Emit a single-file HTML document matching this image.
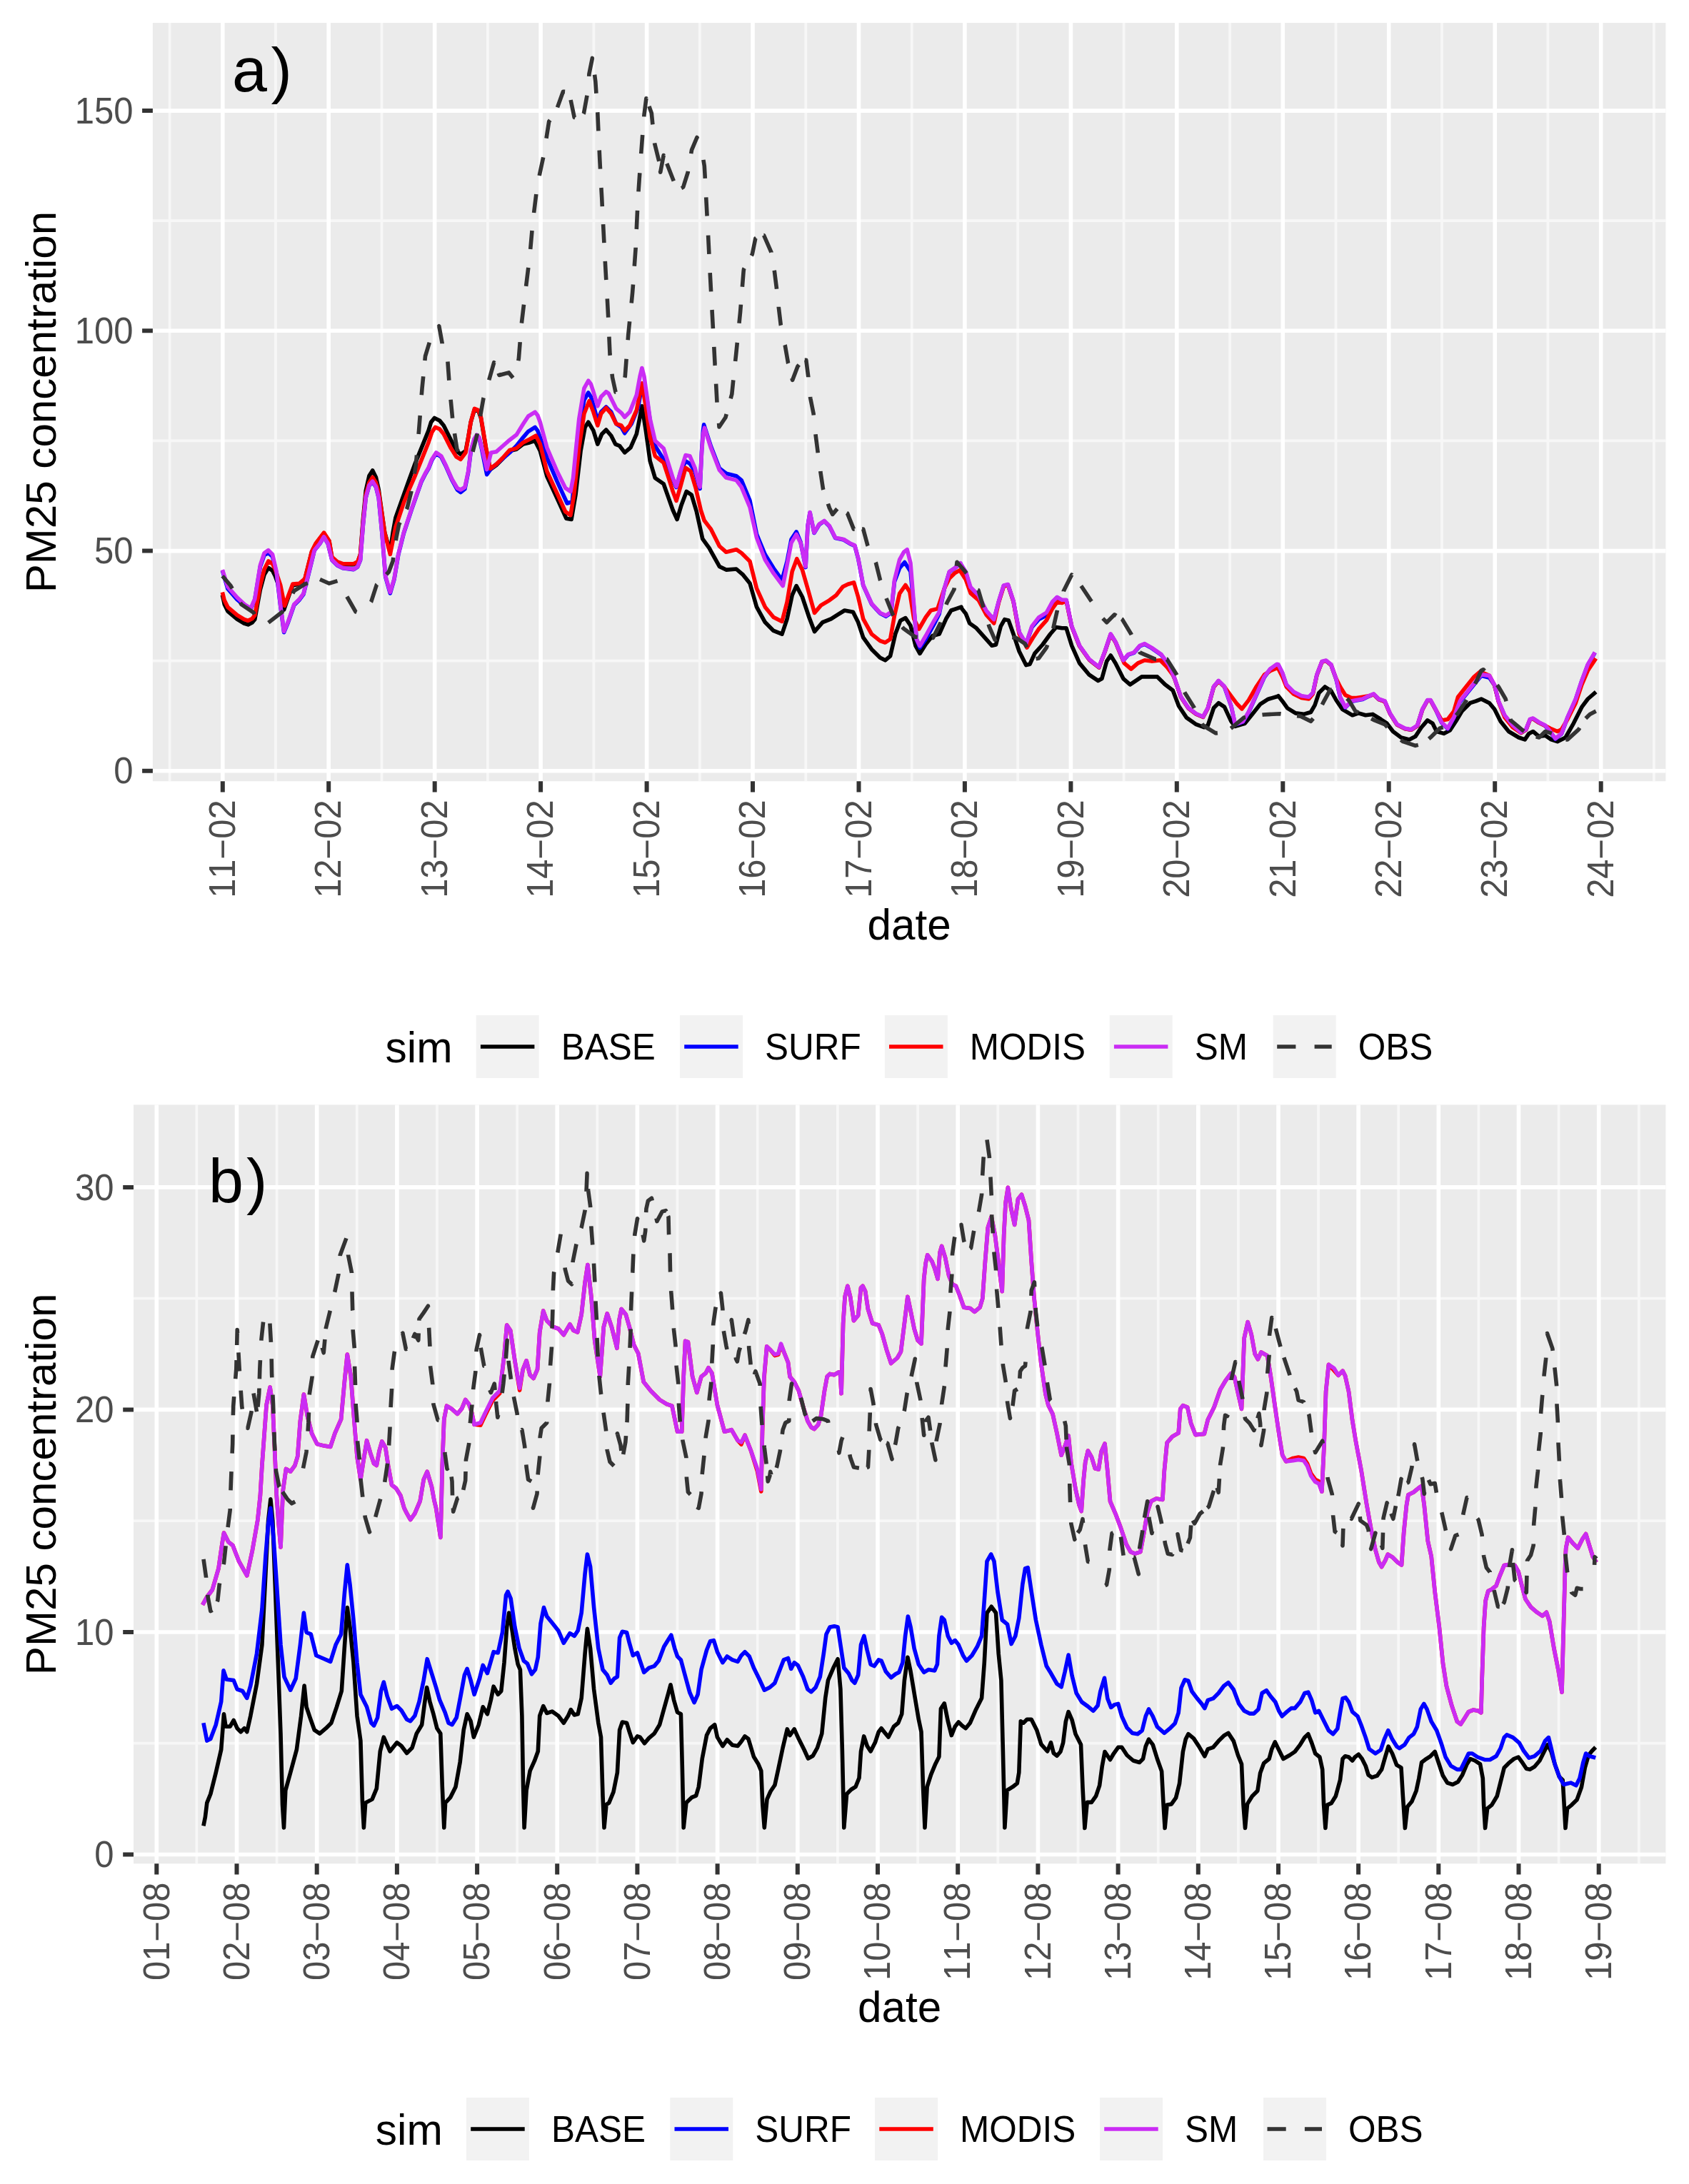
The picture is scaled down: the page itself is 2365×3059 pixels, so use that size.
<!DOCTYPE html>
<html lang="en"><head><meta charset="utf-8"><title>PM25 concentration</title>
<style>html,body{margin:0;padding:0;background:#fff}svg{display:block}#fig{width:2365px;height:3059px;overflow:hidden}</style></head>
<body>
<div id="fig">
<svg width="2365" height="3059" viewBox="0 0 2365 3059" font-family='"Liberation Sans", sans-serif' style="font-kerning:none">
<g>
<rect width="2365" height="3059" fill="#FFFFFF"/>
<rect x="213.9" y="32.0" width="2118.5" height="1062.2" fill="#EBEBEB"/>
<path d="M237.6 32.0V1094.2M386.0 32.0V1094.2M534.5 32.0V1094.2M682.9 32.0V1094.2M831.4 32.0V1094.2M979.8 32.0V1094.2M1128.3 32.0V1094.2M1276.7 32.0V1094.2M1425.2 32.0V1094.2M1573.6 32.0V1094.2M1722.1 32.0V1094.2M1870.5 32.0V1094.2M2019.0 32.0V1094.2M2167.4 32.0V1094.2M2315.9 32.0V1094.2M213.9 925.7H2332.4M213.9 617.4H2332.4M213.9 309.2H2332.4" stroke="#FFFFFF" stroke-opacity="0.62" stroke-width="3.8" fill="none"/>
<path d="M311.8 32.0V1094.2M460.2 32.0V1094.2M608.7 32.0V1094.2M757.1 32.0V1094.2M905.6 32.0V1094.2M1054.0 32.0V1094.2M1202.5 32.0V1094.2M1350.9 32.0V1094.2M1499.4 32.0V1094.2M1647.8 32.0V1094.2M1796.3 32.0V1094.2M1944.7 32.0V1094.2M2093.2 32.0V1094.2M2241.7 32.0V1094.2M213.9 1079.8H2332.4M213.9 771.6H2332.4M213.9 463.3H2332.4M213.9 155.1H2332.4" stroke="#FFFFFF" stroke-width="5.6" fill="none"/>
<path d="M311.8 1094.2v15.3M460.2 1094.2v15.3M608.7 1094.2v15.3M757.1 1094.2v15.3M905.6 1094.2v15.3M1054.0 1094.2v15.3M1202.5 1094.2v15.3M1350.9 1094.2v15.3M1499.4 1094.2v15.3M1647.8 1094.2v15.3M1796.3 1094.2v15.3M1944.7 1094.2v15.3M2093.2 1094.2v15.3M2241.7 1094.2v15.3M213.9 1079.8h-14.8M213.9 771.6h-14.8M213.9 463.3h-14.8M213.9 155.1h-14.8" stroke="#333333" stroke-width="6" fill="none"/>
<text transform="translate(186.5,1097.4) scale(1,1.042)" text-anchor="end" font-size="49" fill="#4D4D4D">0</text>
<text transform="translate(186.5,789.2) scale(1,1.042)" text-anchor="end" font-size="49" fill="#4D4D4D">50</text>
<text transform="translate(186.5,480.9) scale(1,1.042)" text-anchor="end" font-size="49" fill="#4D4D4D">100</text>
<text transform="translate(186.5,172.7) scale(1,1.042)" text-anchor="end" font-size="49" fill="#4D4D4D">150</text>
<text transform="translate(329.0,1120.3) rotate(-90) scale(1,1.042)" text-anchor="end" font-size="49" fill="#4D4D4D">11−02</text>
<text transform="translate(477.4,1120.3) rotate(-90) scale(1,1.042)" text-anchor="end" font-size="49" fill="#4D4D4D">12−02</text>
<text transform="translate(625.9,1120.3) rotate(-90) scale(1,1.042)" text-anchor="end" font-size="49" fill="#4D4D4D">13−02</text>
<text transform="translate(774.4,1120.3) rotate(-90) scale(1,1.042)" text-anchor="end" font-size="49" fill="#4D4D4D">14−02</text>
<text transform="translate(922.8,1120.3) rotate(-90) scale(1,1.042)" text-anchor="end" font-size="49" fill="#4D4D4D">15−02</text>
<text transform="translate(1071.2,1120.3) rotate(-90) scale(1,1.042)" text-anchor="end" font-size="49" fill="#4D4D4D">16−02</text>
<text transform="translate(1219.7,1120.3) rotate(-90) scale(1,1.042)" text-anchor="end" font-size="49" fill="#4D4D4D">17−02</text>
<text transform="translate(1368.1,1120.3) rotate(-90) scale(1,1.042)" text-anchor="end" font-size="49" fill="#4D4D4D">18−02</text>
<text transform="translate(1516.6,1120.3) rotate(-90) scale(1,1.042)" text-anchor="end" font-size="49" fill="#4D4D4D">19−02</text>
<text transform="translate(1665.0,1120.3) rotate(-90) scale(1,1.042)" text-anchor="end" font-size="49" fill="#4D4D4D">20−02</text>
<text transform="translate(1813.5,1120.3) rotate(-90) scale(1,1.042)" text-anchor="end" font-size="49" fill="#4D4D4D">21−02</text>
<text transform="translate(1961.9,1120.3) rotate(-90) scale(1,1.042)" text-anchor="end" font-size="49" fill="#4D4D4D">22−02</text>
<text transform="translate(2110.4,1120.3) rotate(-90) scale(1,1.042)" text-anchor="end" font-size="49" fill="#4D4D4D">23−02</text>
<text transform="translate(2258.8,1120.3) rotate(-90) scale(1,1.042)" text-anchor="end" font-size="49" fill="#4D4D4D">24−02</text>
<text x="1273.2" y="1316.1" text-anchor="middle" font-size="60.2" fill="#000">date</text>
<text transform="translate(78,563.1) rotate(-90)" text-anchor="middle" font-size="60.1" fill="#000">PM25 concentration</text>
<clipPath id="ca"><rect x="213.9" y="32.0" width="2118.5" height="1062.2"/></clipPath>
<g clip-path="url(#ca)" fill="none" stroke-linejoin="round" stroke-linecap="butt" stroke-width="5.6">
<polyline points="311.4,833.3 314.2,846.5 318.9,856.0 332.2,867.4 341.7,873.0 347.4,874.9 353.1,872.1 356.8,867.4 360.6,846.5 364.4,825.7 370.1,804.8 375.8,795.4 381.5,799.2 385.3,806.7 392.8,827.6 397.6,854.1 404.2,835.1 409.9,820.0 419.4,818.1 426.9,811.5 432.6,788.7 436.4,773.6 442.1,762.2 447.8,754.6 453.5,747.0 461.0,758.4 464.8,781.2 472.4,787.8 480.0,790.6 495.1,790.6 500.8,787.8 504.6,776.4 508.4,727.2 512.2,687.4 516.9,666.5 521.7,658.9 526.4,668.4 530.2,685.5 534.9,719.6 538.7,746.1 546.3,772.6 550.1,746.1 553.9,725.3 565.3,693.1 572.8,672.2 580.4,651.4 600.0,603.1 603.6,591.3 608.3,585.4 615.4,588.9 621.3,596.0 630.8,615.0 639.1,631.6 645.0,636.3 652.1,631.6 655.7,612.6 659.2,591.3 664.4,573.5 669.9,575.9 673.4,585.4 680.5,628.0 686.4,657.6 694.7,651.7 704.2,642.2 713.7,631.6 723.1,629.2 732.6,622.1 742.1,619.7 749.2,617.4 756.3,631.6 765.8,667.1 780.0,697.9 793.0,726.3 800.1,727.5 806.0,693.1 813.1,631.6 819.1,598.4 823.8,591.3 830.9,603.1 836.8,622.1 842.7,607.9 848.7,602.0 855.8,610.3 861.7,622.1 867.6,624.5 874.7,633.9 883.0,626.8 891.3,607.9 896.0,584.2 898.9,568.8 904.3,603.1 910.2,645.8 917.3,669.5 929.2,677.8 936.3,697.9 942.2,714.5 948.1,727.5 954.1,707.4 961.2,688.4 968.3,693.1 975.4,716.8 983.7,754.7 993.1,767.7 995.5,772.1 1007.4,793.4 1016.8,798.1 1031.0,797.0 1040.5,805.2 1050.0,817.1 1059.5,850.2 1071.3,871.6 1083.1,883.4 1095.0,888.1 1102.1,866.8 1109.2,833.7 1115.1,820.6 1123.4,836.0 1132.9,864.5 1140.5,884.6 1151.8,871.6 1163.7,866.8 1173.1,860.9 1182.6,855.0 1194.5,857.3 1201.6,871.6 1208.7,892.9 1220.5,909.4 1232.4,921.3 1239.5,924.8 1246.6,918.9 1253.7,888.1 1260.8,869.2 1267.9,865.6 1275.0,876.3 1282.1,904.7 1288.0,915.4 1296.3,902.3 1305.8,890.5 1315.2,888.1 1324.7,866.8 1331.8,855.0 1338.9,852.6 1346.0,850.2 1346.8,852.6 1352.3,859.4 1357.7,873.0 1367.2,879.8 1378.1,892.1 1389.0,904.3 1394.5,903.0 1401.3,877.1 1406.7,867.6 1412.2,868.9 1419.0,888.0 1427.2,912.5 1436.7,931.6 1442.1,930.2 1448.9,915.2 1459.8,903.0 1470.7,888.0 1478.9,878.5 1487.1,879.8 1493.1,879.8 1500.7,904.3 1511.6,928.9 1525.2,945.2 1537.5,953.4 1542.9,950.6 1549.7,926.1 1555.2,918.0 1562.0,928.9 1572.9,950.6 1582.4,958.8 1590.6,953.4 1598.7,947.9 1612.4,947.9 1620.5,947.9 1631.4,958.8 1642.3,967.0 1650.5,988.8 1661.4,1005.1 1675.0,1014.7 1685.9,1018.7 1691.3,1016.0 1699.5,991.5 1706.3,984.7 1714.5,990.1 1724.0,1010.6 1729.5,1017.4 1743.1,1013.3 1754.0,999.7 1764.9,986.1 1775.8,979.2 1789.4,975.2 1789.9,974.8 1795.6,981.9 1802.7,991.8 1814.1,998.9 1825.5,1000.4 1835.4,997.5 1841.1,987.6 1846.8,970.5 1855.3,962.0 1863.8,967.7 1870.9,980.5 1879.5,993.3 1893.7,1001.8 1902.2,998.9 1912.1,1001.8 1922.1,1000.4 1933.5,1007.5 1942.0,1013.1 1950.5,1024.5 1961.9,1033.0 1973.3,1035.9 1981.8,1031.6 1990.3,1018.8 1998.8,1008.9 2005.9,1013.1 2011.6,1024.5 2021.6,1027.4 2030.1,1023.1 2038.6,1010.3 2047.1,996.1 2058.5,984.7 2067.0,981.9 2074.1,979.0 2085.5,984.7 2092.6,993.3 2101.1,1010.3 2112.5,1024.5 2126.7,1033.0 2135.2,1035.9 2140.9,1027.4 2146.6,1024.5 2155.1,1031.6 2163.7,1030.2 2172.2,1035.9 2180.7,1038.7 2192.1,1033.0 2203.4,1013.1 2214.8,990.4 2223.3,979.0 2234.7,969.1" stroke="#000000"/>
<polyline points="311.4,799.2 318.9,824.7 332.2,839.9 343.6,849.4 351.2,853.1 356.8,839.9 364.4,793.5 370.1,777.4 375.8,774.5 381.5,779.3 387.2,802.9 392.8,849.4 397.6,885.7 403.3,872.1 411.8,847.5 419.4,839.9 425.0,832.3 432.6,802.0 440.2,771.1 447.8,761.6 453.5,752.2 459.2,761.6 464.8,784.4 472.4,792.0 480.0,795.7 495.1,797.6 500.8,793.8 504.6,784.4 508.4,735.1 512.2,697.2 516.9,680.2 521.7,675.1 526.4,682.1 530.2,697.2 534.9,746.5 539.7,807.7 546.3,831.0 552.0,811.5 557.7,777.4 565.3,747.0 576.6,712.9 589.9,675.1 595.6,663.7 600.0,656.4 604.7,644.6 610.7,635.1 617.8,639.9 623.7,651.7 633.2,673.0 640.3,686.0 645.0,689.6 650.9,684.9 655.7,661.2 659.2,632.8 663.9,616.2 667.5,610.3 671.0,613.8 674.6,629.2 681.7,664.7 687.6,656.4 694.7,650.5 704.2,642.2 713.7,633.9 723.1,624.5 732.6,612.6 739.7,604.3 749.2,598.4 752.8,603.1 756.3,612.6 765.8,641.0 780.0,674.2 794.2,705.0 801.3,702.6 806.0,650.5 810.8,603.1 817.9,560.5 823.8,549.9 827.4,555.8 830.9,567.6 836.8,588.9 841.6,577.1 848.7,570.0 855.8,577.1 862.9,593.7 870.0,598.4 874.7,606.7 884.2,593.7 893.7,570.0 898.9,539.2 904.3,548.7 910.2,588.9 917.3,624.5 929.2,643.4 936.3,655.3 942.2,671.8 947.0,682.5 952.9,661.2 960.0,645.8 965.9,649.3 973.0,660.0 978.9,681.3 980.1,684.5 982.5,632.4 984.4,603.9 985.6,594.9 995.5,625.3 1007.4,656.0 1016.8,663.1 1031.0,666.7 1038.2,672.6 1050.0,701.0 1059.5,748.4 1071.3,776.8 1083.1,795.8 1095.0,812.4 1102.1,786.3 1108.0,755.5 1115.1,744.9 1121.0,759.1 1128.1,794.6 1131.0,736.6 1134.1,718.1 1140.0,746.5 1147.1,734.7 1154.2,729.9 1161.3,737.0 1169.6,753.6 1181.4,756.0 1190.9,761.9 1196.8,764.3 1201.6,782.0 1208.7,819.9 1220.5,846.0 1232.4,859.0 1240.6,863.3 1247.7,858.5 1252.5,814.7 1259.6,795.8 1266.7,787.5 1275.0,800.5 1279.7,852.6 1283.3,895.2 1288.0,907.1 1296.3,895.2 1308.1,873.9 1315.2,859.7 1322.3,824.7 1329.4,801.0 1336.6,796.2 1344.8,789.1 1345.4,790.5 1352.3,801.4 1359.1,825.4 1370.0,834.9 1380.9,855.9 1391.7,868.1 1398.6,842.3 1405.4,820.5 1411.4,819.1 1419.0,842.3 1427.2,885.8 1436.7,902.2 1444.9,878.5 1454.4,867.6 1465.3,862.1 1473.5,843.9 1480.3,836.8 1487.1,840.9 1493.1,840.9 1500.7,877.7 1511.6,904.9 1525.2,924.0 1538.8,934.9 1547.0,913.1 1555.2,888.6 1562.0,899.4 1572.9,925.3 1579.7,917.1 1587.8,914.4 1596.0,904.9 1602.8,902.2 1612.4,907.6 1626.0,917.1 1636.9,932.1 1645.0,951.2 1653.2,975.7 1664.1,992.0 1675.0,1000.2 1684.5,1004.3 1691.3,992.0 1699.5,962.1 1706.3,953.9 1714.5,962.1 1724.0,989.3 1729.5,1015.2 1740.4,1011.1 1748.5,997.5 1759.4,973.0 1770.3,948.5 1778.5,937.6 1788.0,930.8 1789.9,931.3 1795.6,942.7 1801.3,959.7 1811.3,969.7 1822.6,975.3 1832.6,976.8 1838.3,971.1 1843.9,945.5 1851.0,927.0 1856.7,925.6 1863.8,931.3 1870.9,951.2 1876.6,976.8 1883.7,991.0 1892.3,982.5 1899.4,981.0 1907.9,979.6 1916.4,975.3 1923.5,972.5 1930.6,979.6 1939.1,982.5 1946.3,999.5 1956.2,1015.1 1967.6,1020.8 1976.1,1022.2 1984.6,1016.6 1991.7,993.8 1998.8,981.0 2003.1,981.0 2010.2,993.8 2018.7,1012.3 2027.2,1020.8 2035.8,1005.2 2044.3,983.3 2055.7,969.1 2067.0,954.9 2074.1,946.4 2085.5,949.2 2092.6,959.7 2098.3,982.5 2106.8,1002.3 2118.2,1016.6 2129.6,1026.5 2136.7,1022.2 2142.3,1008.0 2146.6,1006.6 2155.1,1012.3 2163.7,1016.6 2170.8,1025.1 2177.9,1035.0 2186.4,1027.9 2194.9,1005.2 2206.3,979.6 2214.8,954.0 2223.3,931.3 2233.3,914.2" stroke="#0000FF"/>
<polyline points="311.4,829.5 314.2,840.8 318.9,850.3 332.2,861.7 341.7,867.4 347.4,869.3 353.1,866.4 356.8,861.7 360.6,840.8 364.4,820.0 370.1,797.3 375.8,785.9 381.5,789.7 385.3,797.3 392.8,820.0 398.5,848.4 404.2,833.3 409.9,818.1 419.4,817.2 426.9,810.5 432.6,787.8 436.4,772.6 442.1,761.3 447.8,753.7 453.5,746.1 461.0,757.5 464.8,780.2 472.4,786.8 480.0,789.7 495.1,789.7 500.8,786.8 504.6,776.4 508.4,730.9 512.2,693.1 516.9,676.0 521.7,668.4 526.4,676.0 530.2,689.3 534.9,719.6 538.7,746.1 546.3,776.4 550.1,757.5 553.9,738.5 565.3,704.4 572.8,685.5 580.4,668.4 600.0,619.7 604.7,605.5 609.5,598.4 615.4,600.8 621.3,607.9 630.8,626.8 639.1,639.9 645.0,643.4 652.1,633.9 655.7,612.6 659.2,591.3 664.4,572.4 669.9,574.7 673.4,584.2 680.5,626.8 686.4,656.4 694.7,650.5 704.2,641.0 713.7,630.4 723.1,628.0 732.6,619.7 742.1,615.0 750.4,610.3 756.3,622.1 765.8,660.0 780.0,690.8 791.8,716.8 798.9,721.6 803.7,693.1 810.8,626.8 817.9,579.5 825.0,561.7 830.9,577.1 836.8,596.0 841.6,579.5 848.7,571.2 855.8,579.5 862.9,593.7 870.0,596.0 874.7,603.1 881.8,596.0 891.3,574.7 896.0,551.0 898.9,536.8 904.3,570.0 910.2,612.6 917.3,638.7 929.2,648.1 936.3,669.5 942.2,688.4 947.0,701.4 952.9,681.3 960.0,655.3 967.1,660.0 974.2,683.7 981.3,714.5 986.0,728.7 993.1,738.1 995.5,741.3 1007.4,765.0 1016.8,773.3 1031.0,769.7 1038.2,774.5 1050.0,786.3 1059.5,824.2 1071.3,850.2 1083.1,864.5 1095.0,870.4 1102.1,843.1 1109.2,800.5 1115.8,782.7 1123.4,798.1 1132.9,831.3 1140.5,858.5 1149.5,847.9 1161.3,840.8 1170.8,833.7 1180.2,821.8 1187.4,818.3 1195.6,815.9 1201.6,836.0 1208.7,866.8 1220.5,888.1 1232.4,897.6 1239.5,900.0 1246.6,895.2 1252.5,862.1 1259.6,831.3 1267.9,819.5 1273.8,828.9 1279.7,866.8 1286.8,881.0 1296.3,864.5 1303.4,855.0 1312.9,852.6 1322.3,824.2 1329.4,810.0 1336.6,802.9 1344.8,798.1 1345.4,800.9 1352.3,811.7 1359.1,830.8 1370.0,840.3 1380.9,860.8 1391.7,873.0 1398.6,843.1 1405.4,821.3 1411.4,819.4 1419.0,842.3 1427.2,888.0 1438.0,907.1 1446.2,893.5 1454.4,881.2 1465.3,868.9 1473.5,852.6 1480.3,843.1 1487.1,844.4 1493.1,841.7 1500.7,877.7 1511.6,904.9 1525.2,924.0 1538.8,934.9 1547.0,913.1 1555.2,888.6 1562.0,899.4 1574.2,928.9 1583.8,937.0 1593.3,928.9 1602.8,924.8 1612.4,926.1 1624.6,924.8 1634.1,934.3 1642.3,945.2 1645.0,951.2 1653.2,975.7 1664.1,992.0 1675.0,1000.2 1684.5,1004.3 1691.3,992.0 1699.5,962.1 1706.3,953.9 1714.5,962.1 1724.0,975.2 1732.2,986.1 1739.0,992.9 1748.5,980.6 1759.4,961.5 1770.3,945.2 1778.5,939.8 1788.0,935.7 1789.9,936.4 1795.6,947.8 1801.3,962.0 1811.3,971.9 1822.6,977.6 1832.6,979.0 1838.3,971.9 1843.9,945.5 1851.0,927.0 1856.7,925.6 1863.8,931.3 1870.9,950.6 1876.6,962.0 1883.7,973.4 1892.3,977.6 1899.4,977.6 1907.9,976.2 1916.4,974.8 1923.5,972.5 1930.6,979.6 1939.1,982.5 1946.3,999.5 1956.2,1015.1 1967.6,1020.8 1976.1,1022.2 1984.6,1016.6 1991.7,993.8 1998.8,981.0 2003.1,981.0 2010.2,993.8 2018.7,1008.9 2027.2,1007.5 2035.8,996.1 2041.5,976.2 2052.8,962.0 2064.2,947.8 2072.7,940.7 2085.5,946.4 2092.6,959.7 2098.3,982.5 2106.8,1004.6 2118.2,1018.8 2129.6,1026.5 2136.7,1022.2 2142.3,1008.0 2146.6,1006.6 2155.1,1012.3 2163.7,1016.6 2170.8,1020.2 2180.7,1024.5 2186.4,1021.7 2194.9,1007.5 2206.3,984.7 2214.8,959.1 2223.3,939.3 2234.7,922.2" stroke="#FF0000"/>
<polyline points="311.4,798.2 318.9,821.9 332.2,837.0 343.6,847.5 351.2,852.2 356.8,838.9 364.4,791.6 370.1,774.5 375.8,770.7 381.5,776.4 387.2,801.0 392.8,848.4 397.6,884.4 403.3,871.1 411.8,846.5 419.4,838.9 425.0,831.4 432.6,801.0 440.2,770.7 447.8,761.3 453.5,751.8 459.2,761.3 464.8,784.0 472.4,791.6 480.0,795.4 495.1,797.3 500.8,793.5 504.6,784.0 508.4,734.7 512.2,696.8 516.9,679.8 521.7,674.1 526.4,681.7 530.2,696.8 534.9,746.1 539.7,806.7 546.3,829.5 552.0,810.5 557.7,776.4 565.3,746.1 576.6,712.0 589.9,674.1 595.6,662.7 600.0,655.3 604.7,643.4 610.7,633.9 617.8,638.7 623.7,650.5 633.2,671.8 640.3,683.7 645.0,686.0 650.9,682.5 655.7,660.0 659.2,631.6 663.9,615.0 667.5,609.1 671.0,612.6 674.6,626.8 681.7,657.6 687.6,633.9 694.7,632.8 704.2,624.5 713.7,616.2 723.1,609.1 732.6,593.7 739.7,583.0 749.2,577.1 752.8,581.8 756.3,591.3 765.8,626.8 780.0,660.0 791.8,683.7 798.9,688.4 802.5,669.5 806.0,633.9 810.8,586.6 817.9,543.9 823.8,533.3 827.4,538.0 830.9,548.7 836.8,568.8 841.6,555.8 848.7,548.7 852.2,551.0 855.8,558.2 862.9,572.4 870.0,578.3 874.7,584.2 881.8,577.1 891.3,553.4 896.0,527.4 898.9,515.5 902.0,527.4 904.3,543.9 910.2,586.6 917.3,617.4 929.2,628.0 936.3,650.5 942.2,669.5 947.0,681.3 952.9,660.0 960.0,637.5 965.9,638.7 973.0,655.3 978.9,678.9 980.1,682.1 982.5,634.7 984.4,608.7 986.5,599.2 995.5,627.6 1007.4,658.4 1016.8,669.1 1031.0,672.6 1038.2,682.1 1050.0,710.5 1059.5,753.1 1071.3,783.9 1083.1,802.9 1096.2,820.6 1102.1,791.0 1108.0,760.2 1115.1,748.4 1121.0,760.2 1128.1,793.4 1131.0,736.6 1134.1,717.6 1140.0,746.0 1147.1,734.2 1154.2,729.5 1161.3,736.6 1169.6,753.1 1181.4,755.5 1190.9,761.4 1196.8,763.8 1201.6,781.6 1208.7,819.5 1220.5,845.5 1232.4,858.5 1240.6,862.1 1247.7,857.3 1252.5,812.4 1259.6,783.9 1265.5,773.3 1270.2,769.7 1275.0,788.7 1279.7,847.9 1283.3,895.2 1288.0,904.7 1296.3,890.5 1308.1,869.2 1315.2,857.3 1322.3,824.2 1329.4,800.5 1336.6,795.8 1344.8,788.7 1345.4,790.0 1352.3,800.9 1359.1,822.6 1370.0,833.5 1380.9,855.3 1391.7,867.6 1398.6,841.7 1405.4,819.9 1411.4,818.6 1419.0,841.7 1427.2,885.3 1436.7,901.6 1444.9,877.1 1454.4,864.9 1465.3,858.0 1473.5,843.1 1480.3,836.3 1487.1,840.3 1493.1,840.3 1500.7,877.1 1511.6,904.3 1525.2,923.4 1538.8,934.3 1547.0,912.5 1555.2,888.0 1562.0,898.9 1572.9,924.8 1579.7,916.6 1587.8,913.9 1596.0,904.3 1602.8,901.6 1612.4,907.1 1626.0,916.6 1636.9,931.6 1645.0,950.6 1653.2,975.2 1664.1,991.5 1675.0,999.7 1684.5,1003.8 1691.3,991.5 1699.5,961.5 1706.3,953.4 1714.5,961.5 1724.0,988.8 1729.5,1014.7 1740.4,1010.6 1748.5,996.9 1759.4,972.4 1770.3,947.9 1778.5,937.0 1788.0,930.2 1789.9,930.7 1795.6,942.1 1801.3,959.1 1811.3,969.1 1822.6,974.8 1832.6,976.2 1838.3,970.5 1843.9,944.9 1851.0,926.5 1856.7,925.0 1863.8,930.7 1870.9,950.6 1876.6,976.2 1883.7,990.4 1892.3,981.9 1899.4,980.5 1907.9,979.0 1916.4,974.8 1923.5,971.9 1930.6,979.0 1939.1,981.9 1946.3,998.9 1956.2,1014.6 1967.6,1020.2 1976.1,1021.7 1984.6,1016.0 1991.7,993.3 1998.8,980.5 2003.1,980.5 2010.2,993.3 2018.7,1011.7 2027.2,1020.2 2035.8,1004.6 2044.3,981.9 2055.7,967.7 2067.0,953.5 2074.1,944.9 2085.5,946.4 2092.6,959.1 2098.3,981.9 2106.8,1001.8 2118.2,1016.0 2129.6,1025.9 2136.7,1021.7 2142.3,1007.5 2146.6,1006.0 2155.1,1011.7 2163.7,1016.0 2170.8,1024.5 2177.9,1034.5 2186.4,1027.4 2194.9,1004.6 2206.3,979.0 2214.8,953.5 2223.3,930.7 2233.3,913.7" stroke="#CA2CF4"/>
<path d="M311.4 806.7L322.7 820.0L325.2 824.4M336.5 844.0L337.9 846.5L354.9 857.9L356.3 860.4M375.8 872.1L396.6 856.0M409.8 831.2L411.8 827.6L426.9 818.1L430.9 816.8M448.0 811.5L461.0 817.2L472.5 813.6M485.8 835.6L486.6 837.0L498.0 856.9L499.5 857.5M519.4 843.3L519.8 842.7L527.4 819.0L527.8 818.6M541.0 804.7L544.4 801.0L550.1 785.9L550.8 780.9M554.3 757.1L554.8 753.7L558.6 734.7L560.2 731.7M569.4 713.2L570.0 712.0L575.7 689.3L575.9 687.9M580.3 663.6L582.2 652.8L583.5 637.6M586.1 608.1L586.6 602.5L588.2 582.0M590.3 553.3L591.1 543.3L592.7 527.2M594.9 505.0L595.5 498.9L601.3 479.7M613.9 457.9L614.8 456.8L619.2 481.1L619.2 481.2M626.9 506.5L628.8 532.7M631.1 559.8L633.6 585.8M636.5 607.1L639.9 629.1L641.7 632.6M662.0 632.8L668.1 608.4L668.2 607.3M672.5 582.9L676.9 558.1L677.2 557.2M684.7 532.3L685.8 528.5L691.7 507.7L692.0 508.3M698.0 522.7L699.1 525.5L712.5 521.9L718.3 529.2M725.8 505.2L726.4 501.8L728.2 479.1M730.4 452.6L733.5 426.6M736.6 400.8L739.8 374.8M742.7 349.0L745.0 322.9M747.6 298.0L750.8 272.0M755.2 246.0L760.7 220.3M765.0 193.7L768.7 170.3L770.2 168.3M780.5 150.4L788.5 128.2L791.1 128.4M799.1 140.0L804.2 164.3L805.4 164.8M817.0 159.3L817.5 158.4L822.0 133.7M824.7 106.9L824.9 103.6L829.4 81.4L829.4 81.7M832.6 104.7L833.8 114.0L834.9 130.8M836.7 157.2L836.8 158.4L837.9 183.3M839.2 210.5L839.8 223.5L840.5 236.6M841.9 263.0L842.7 276.8L843.3 289.1M844.6 314.1L845.7 336.0L845.9 340.2M847.3 365.9L848.6 389.3L848.8 392.0M850.3 418.4L851.6 442.6L851.7 444.6M852.9 471.7L854.0 495.9L854.2 497.9M857.0 523.7L857.5 528.5L862.0 549.2L862.2 549.2M874.8 528.9L875.3 527.0L877.1 502.8M879.2 476.3L879.7 469.2L881.6 450.3M884.2 424.6L885.6 410.0L886.5 398.5M888.3 372.8L890.1 347.9L890.1 346.7M891.3 321.0L892.5 294.8M894.0 268.4L895.8 242.3M897.7 215.1L899.7 189.0M901.8 163.3L901.9 161.4L904.9 137.7L905.0 138.0M908.9 148.9L912.3 158.4L913.9 174.4M916.6 200.4L916.7 201.3L922.6 225.0L922.8 225.9M924.5 239.5L924.7 241.3L929.2 217.6L929.3 217.9M933.7 229.1L934.5 230.9L943.3 253.5M954.0 263.4L956.7 262.0L963.2 241.3L963.4 239.9M967.7 215.1L968.5 210.2L975.9 192.5L976.7 194.3M984.9 223.9L986.3 232.4L987.3 249.9M988.7 276.4L989.2 285.7L990.1 302.5M991.6 329.6L992.2 342.0L992.9 355.8M994.2 382.1L995.2 401.2L995.6 408.3M997.0 434.0L998.1 454.4L998.4 460.1M999.8 485.8L1001.1 510.7L1001.2 511.9M1002.6 537.6L1004.0 563.7M1006.6 592.7L1007.0 598.0L1015.9 584.7L1017.2 580.0M1023.1 558.3L1024.8 552.1L1026.8 532.4M1029.6 506.0L1030.7 495.9L1032.3 479.9M1035.0 452.7L1036.6 436.7L1037.4 426.6M1039.4 401.7L1041.1 380.4L1041.5 377.0L1042.2 375.7M1052.2 358.2L1053.3 356.2L1057.8 334.0L1058.8 333.2M1069.4 329.6L1069.6 329.6L1080.0 353.3L1080.0 353.5M1084.2 378.8L1084.4 379.9L1087.4 403.6L1087.5 404.8M1090.3 429.8L1090.3 430.3L1093.3 455.4L1093.4 455.8M1099.1 483.2L1099.2 483.5L1103.6 508.7L1103.7 509.0M1108.9 529.7L1109.6 532.4L1117.0 513.1L1118.8 511.0M1126.8 504.3L1128.8 504.3L1131.8 527.9L1131.8 528.3M1134.6 555.8L1134.7 557.5L1139.2 579.8L1139.3 581.5M1142.0 608.2L1142.1 609.4L1145.1 633.0L1145.2 634.2M1148.8 660.0L1148.9 661.2L1152.5 684.8L1152.8 685.9M1159.4 705.6L1161.4 711.5L1165.8 720.4L1172.3 712.6M1185.5 718.3L1186.5 718.9L1195.4 741.1L1196.6 741.1M1207.1 741.1L1208.7 741.1L1214.7 763.3L1215.3 764.7M1226.1 787.6L1226.5 788.5L1232.4 812.1L1232.7 813.0M1241.0 838.0L1241.3 838.8L1250.2 861.0L1251.0 862.1M1263.4 878.2L1265.0 880.2L1281.3 892.1L1284.7 892.3M1304.9 893.5L1306.4 893.5L1316.8 872.8L1317.2 871.4M1325.0 846.8L1325.7 844.7L1336.0 825.5L1336.3 823.3M1339.4 792.8L1340.0 787.2L1353.4 802.9M1369.0 826.3L1370.0 826.7L1376.8 849.9L1377.1 850.9M1384.2 874.5L1384.9 877.1L1393.1 896.2L1395.7 895.2M1417.4 892.4L1423.1 893.5L1435.3 901.6L1437.9 906.8M1450.6 922.7L1454.4 922.1L1465.3 907.1L1466.6 903.4M1474.6 880.4L1474.8 879.8L1480.3 855.3L1480.4 854.8M1489.2 828.3L1489.2 828.1L1500.7 804.9L1500.8 805.1M1513.8 820.6L1514.3 821.3L1527.9 841.7L1528.4 842.4M1544.2 866.1L1549.7 871.7L1560.6 860.8L1563.1 862.4M1570.5 866.9L1571.5 867.6L1583.8 888.0L1584.3 889.1M1595.5 912.8L1596.0 913.9L1617.8 923.4L1619.0 923.4M1633.9 923.4L1634.1 923.4L1647.8 945.2L1647.9 945.4M1658.6 969.5L1658.7 969.7L1672.3 991.5L1672.4 991.7M1683.3 1013.6L1684.5 1016.0L1702.2 1026.9L1704.9 1026.6M1723.4 1020.2L1725.4 1018.7L1741.7 1005.1L1744.1 1004.7M1767.5 1001.2L1769.0 1001.0L1792.1 999.7L1793.6 999.9M1816.1 1002.6L1821.2 1003.2L1835.4 1010.3L1838.8 1006.4M1851.3 987.1L1852.5 984.7L1862.4 966.3L1865.0 965.9M1886.2 978.3L1889.4 981.9L1897.9 996.1L1902.3 998.0M1920.1 1006.4L1924.9 1008.9L1939.1 1014.6L1942.8 1018.6M1961.5 1036.2L1964.7 1038.7L1981.8 1044.4L1985.8 1043.4M2000.7 1034.9L2004.5 1031.6L2015.9 1020.2L2020.6 1018.5M2039.0 1001.9L2041.5 998.9L2052.8 981.9L2053.7 980.3M2065.5 957.8L2067.0 954.9L2074.1 939.3L2077.0 937.8L2078.8 939.7M2096.3 959.5L2098.3 962.0L2108.2 979.0L2109.0 982.2M2114.9 1006.9L2115.3 1008.9L2132.4 1023.1L2134.1 1024.2M2150.7 1031.9L2155.1 1033.0L2163.7 1024.5L2172.9 1027.1M2192.4 1035.9L2194.9 1035.9L2210.6 1021.7L2211.9 1019.5M2220.3 1006.2L2226.2 1000.4L2234.7 996.1" stroke="#333333"/>
</g>
<text x="325" y="127.5" font-size="88" fill="#000">a<tspan dx="5.5">)</tspan></text>
<text x="539.5" y="1487.5" font-size="60.5" fill="#000">sim</text>
<rect x="666.7" y="1422.0" width="88" height="88" fill="#F2F2F2"/>
<path d="M672.9 1466h75.5" stroke="#000000" stroke-width="5.6" fill="none"/>
<text transform="translate(785.7,1483.8) scale(1,1.042)" font-size="49.5" fill="#000">BASE</text>
<rect x="952.0" y="1422.0" width="88" height="88" fill="#F2F2F2"/>
<path d="M958.2 1466h75.5" stroke="#0000FF" stroke-width="5.6" fill="none"/>
<text transform="translate(1071.0,1483.8) scale(1,1.042)" font-size="49.5" fill="#000">SURF</text>
<rect x="1238.8" y="1422.0" width="88" height="88" fill="#F2F2F2"/>
<path d="M1245.0 1466h75.5" stroke="#FF0000" stroke-width="5.6" fill="none"/>
<text transform="translate(1357.8,1483.8) scale(1,1.042)" font-size="49.5" fill="#000">MODIS</text>
<rect x="1553.7" y="1422.0" width="88" height="88" fill="#F2F2F2"/>
<path d="M1559.9 1466h75.5" stroke="#CA2CF4" stroke-width="5.6" fill="none"/>
<text transform="translate(1672.7,1483.8) scale(1,1.042)" font-size="49.5" fill="#000">SM</text>
<rect x="1782.7" y="1422.0" width="88" height="88" fill="#F2F2F2"/>
<path d="M1788.2 1466h76.5" stroke="#333333" stroke-width="5.6" stroke-dasharray="26.2 26.2" fill="none"/>
<text transform="translate(1901.7,1483.8) scale(1,1.042)" font-size="49.5" fill="#000">OBS</text>
<rect x="187.0" y="1547.4" width="2145.4" height="1062.9" fill="#EBEBEB"/>
<path d="M275.4 1547.4V2610.3M387.6 1547.4V2610.3M499.8 1547.4V2610.3M612.0 1547.4V2610.3M724.2 1547.4V2610.3M836.3 1547.4V2610.3M948.5 1547.4V2610.3M1060.7 1547.4V2610.3M1172.9 1547.4V2610.3M1285.1 1547.4V2610.3M1397.3 1547.4V2610.3M1509.5 1547.4V2610.3M1621.7 1547.4V2610.3M1733.9 1547.4V2610.3M1846.1 1547.4V2610.3M1958.2 1547.4V2610.3M2070.4 1547.4V2610.3M2182.6 1547.4V2610.3M2294.8 1547.4V2610.3M187.0 2441.7H2332.4M187.0 2130.2H2332.4M187.0 1818.7H2332.4" stroke="#FFFFFF" stroke-opacity="0.62" stroke-width="3.8" fill="none"/>
<path d="M219.3 1547.4V2610.3M331.5 1547.4V2610.3M443.7 1547.4V2610.3M555.9 1547.4V2610.3M668.1 1547.4V2610.3M780.2 1547.4V2610.3M892.4 1547.4V2610.3M1004.6 1547.4V2610.3M1116.8 1547.4V2610.3M1229.0 1547.4V2610.3M1341.2 1547.4V2610.3M1453.4 1547.4V2610.3M1565.6 1547.4V2610.3M1677.8 1547.4V2610.3M1790.0 1547.4V2610.3M1902.1 1547.4V2610.3M2014.3 1547.4V2610.3M2126.5 1547.4V2610.3M2238.7 1547.4V2610.3M187.0 2597.5H2332.4M187.0 2286.0H2332.4M187.0 1974.4H2332.4M187.0 1662.9H2332.4" stroke="#FFFFFF" stroke-width="5.6" fill="none"/>
<path d="M219.3 2610.3v15.3M331.5 2610.3v15.3M443.7 2610.3v15.3M555.9 2610.3v15.3M668.1 2610.3v15.3M780.2 2610.3v15.3M892.4 2610.3v15.3M1004.6 2610.3v15.3M1116.8 2610.3v15.3M1229.0 2610.3v15.3M1341.2 2610.3v15.3M1453.4 2610.3v15.3M1565.6 2610.3v15.3M1677.8 2610.3v15.3M1790.0 2610.3v15.3M1902.1 2610.3v15.3M2014.3 2610.3v15.3M2126.5 2610.3v15.3M2238.7 2610.3v15.3M187.0 2597.5h-14.8M187.0 2286.0h-14.8M187.0 1974.4h-14.8M187.0 1662.9h-14.8" stroke="#333333" stroke-width="6" fill="none"/>
<text transform="translate(159.6,2615.1) scale(1,1.042)" text-anchor="end" font-size="49" fill="#4D4D4D">0</text>
<text transform="translate(159.6,2303.6) scale(1,1.042)" text-anchor="end" font-size="49" fill="#4D4D4D">10</text>
<text transform="translate(159.6,1992.0) scale(1,1.042)" text-anchor="end" font-size="49" fill="#4D4D4D">20</text>
<text transform="translate(159.6,1680.5) scale(1,1.042)" text-anchor="end" font-size="49" fill="#4D4D4D">30</text>
<text transform="translate(236.5,2636.4) rotate(-90) scale(1,1.042)" text-anchor="end" font-size="49" fill="#4D4D4D">01−08</text>
<text transform="translate(348.7,2636.4) rotate(-90) scale(1,1.042)" text-anchor="end" font-size="49" fill="#4D4D4D">02−08</text>
<text transform="translate(460.9,2636.4) rotate(-90) scale(1,1.042)" text-anchor="end" font-size="49" fill="#4D4D4D">03−08</text>
<text transform="translate(573.1,2636.4) rotate(-90) scale(1,1.042)" text-anchor="end" font-size="49" fill="#4D4D4D">04−08</text>
<text transform="translate(685.3,2636.4) rotate(-90) scale(1,1.042)" text-anchor="end" font-size="49" fill="#4D4D4D">05−08</text>
<text transform="translate(797.5,2636.4) rotate(-90) scale(1,1.042)" text-anchor="end" font-size="49" fill="#4D4D4D">06−08</text>
<text transform="translate(909.6,2636.4) rotate(-90) scale(1,1.042)" text-anchor="end" font-size="49" fill="#4D4D4D">07−08</text>
<text transform="translate(1021.8,2636.4) rotate(-90) scale(1,1.042)" text-anchor="end" font-size="49" fill="#4D4D4D">08−08</text>
<text transform="translate(1134.0,2636.4) rotate(-90) scale(1,1.042)" text-anchor="end" font-size="49" fill="#4D4D4D">09−08</text>
<text transform="translate(1246.2,2636.4) rotate(-90) scale(1,1.042)" text-anchor="end" font-size="49" fill="#4D4D4D">10−08</text>
<text transform="translate(1358.4,2636.4) rotate(-90) scale(1,1.042)" text-anchor="end" font-size="49" fill="#4D4D4D">11−08</text>
<text transform="translate(1470.6,2636.4) rotate(-90) scale(1,1.042)" text-anchor="end" font-size="49" fill="#4D4D4D">12−08</text>
<text transform="translate(1582.8,2636.4) rotate(-90) scale(1,1.042)" text-anchor="end" font-size="49" fill="#4D4D4D">13−08</text>
<text transform="translate(1695.0,2636.4) rotate(-90) scale(1,1.042)" text-anchor="end" font-size="49" fill="#4D4D4D">14−08</text>
<text transform="translate(1807.2,2636.4) rotate(-90) scale(1,1.042)" text-anchor="end" font-size="49" fill="#4D4D4D">15−08</text>
<text transform="translate(1919.3,2636.4) rotate(-90) scale(1,1.042)" text-anchor="end" font-size="49" fill="#4D4D4D">16−08</text>
<text transform="translate(2031.5,2636.4) rotate(-90) scale(1,1.042)" text-anchor="end" font-size="49" fill="#4D4D4D">17−08</text>
<text transform="translate(2143.7,2636.4) rotate(-90) scale(1,1.042)" text-anchor="end" font-size="49" fill="#4D4D4D">18−08</text>
<text transform="translate(2255.9,2636.4) rotate(-90) scale(1,1.042)" text-anchor="end" font-size="49" fill="#4D4D4D">19−08</text>
<text x="1259.7" y="2832.2" text-anchor="middle" font-size="60.2" fill="#000">date</text>
<text transform="translate(78,2078.9) rotate(-90)" text-anchor="middle" font-size="60.1" fill="#000">PM25 concentration</text>
<clipPath id="cb"><rect x="187.0" y="1547.4" width="2145.4" height="1062.9"/></clipPath>
<g clip-path="url(#cb)" fill="none" stroke-linejoin="round" stroke-linecap="butt" stroke-width="5.6">
<polyline points="284.9,2557.4 287.4,2545.0 289.8,2525.1 294.8,2512.7 302.3,2482.8 309.7,2450.5 313.5,2400.8 316.0,2418.2 322.2,2418.2 327.1,2409.5 332.1,2420.7 337.1,2425.7 342.1,2420.7 345.8,2425.7 350.8,2403.3 359.5,2358.5 366.9,2303.8 371.9,2204.3 375.6,2129.7 378.9,2099.9 381.8,2129.7 385.6,2229.2 389.3,2328.7 393.0,2428.1 395.5,2527.6 397.5,2559.9 399.8,2507.7 406.7,2482.8 415.4,2450.5 421.6,2403.3 426.1,2361.0 429.1,2390.8 434.1,2405.8 440.3,2423.2 447.7,2428.1 456.4,2420.7 463.9,2413.2 471.4,2390.8 478.3,2368.5 482.6,2303.8 486.3,2251.6 490.0,2278.9 495.0,2328.7 500.0,2403.3 504.9,2438.1 507.4,2522.6 509.4,2559.9 511.7,2525.1 521.1,2520.1 527.3,2505.2 532.3,2453.0 537.3,2433.1 546.0,2453.0 555.9,2440.6 562.1,2445.5 569.6,2455.5 577.1,2448.0 583.3,2428.1 590.7,2415.7 594.5,2385.9 597.7,2363.5 601.9,2383.4 606.9,2400.8 611.9,2420.7 616.8,2428.1 619.3,2502.7 621.8,2559.9 623.6,2525.1 630.5,2517.7 638.0,2502.7 644.2,2467.9 649.2,2423.2 654.1,2400.8 659.1,2410.7 663.3,2433.1 670.3,2415.7 676.2,2390.8 682.4,2400.8 687.4,2380.9 691.1,2362.2 697.3,2373.4 701.8,2368.5 706.0,2328.7 709.7,2278.9 712.7,2259.0 716.0,2276.4 720.9,2308.8 725.2,2331.2 728.4,2338.6 730.9,2403.3 732.6,2502.7 734.1,2559.9 737.1,2507.7 742.1,2480.4 748.3,2466.7 753.3,2453.0 755.7,2403.3 760.7,2389.6 765.7,2399.5 773.1,2397.1 781.8,2403.3 789.3,2413.2 795.5,2403.3 799.3,2394.6 804.2,2402.0 809.2,2400.8 814.2,2378.4 819.1,2316.2 822.4,2281.4 826.6,2308.8 831.6,2366.0 837.8,2413.2 841.5,2433.1 844.0,2515.2 846.0,2559.9 849.0,2527.6 852.7,2525.1 858.9,2510.2 864.4,2482.8 867.6,2423.2 871.4,2412.0 877.6,2413.2 881.3,2425.7 886.3,2440.6 892.5,2431.9 896.2,2433.1 902.5,2441.8 908.7,2434.4 916.1,2428.1 923.6,2415.7 929.8,2393.3 936.0,2370.9 939.0,2359.8 943.5,2380.9 948.5,2398.3 953.4,2400.8 955.4,2477.9 957.2,2559.9 960.9,2525.1 968.4,2517.7 974.6,2515.2 978.3,2502.7 983.3,2463.0 989.5,2430.6 994.5,2420.7 1000.7,2415.7 1004.4,2433.1 1011.9,2445.5 1018.1,2436.8 1025.5,2444.3 1033.0,2445.5 1038.0,2439.3 1043.0,2431.9 1047.9,2435.6 1055.4,2460.5 1061.6,2470.4 1065.8,2480.4 1067.8,2527.6 1070.3,2559.9 1074.0,2520.1 1079.0,2509.0 1084.9,2500.3 1089.8,2477.9 1096.1,2448.0 1102.3,2421.9 1106.0,2430.6 1112.2,2421.9 1118.4,2435.6 1125.9,2450.5 1131.6,2463.0 1138.3,2459.2 1144.5,2448.0 1150.8,2428.1 1155.7,2378.4 1159.5,2353.5 1166.9,2336.1 1173.1,2323.7 1176.9,2366.0 1179.4,2453.0 1181.8,2559.9 1185.6,2512.7 1191.8,2506.5 1198.0,2502.7 1203.0,2490.3 1205.5,2453.0 1209.7,2431.9 1214.2,2445.5 1219.1,2453.0 1225.4,2440.6 1230.3,2425.7 1234.1,2420.7 1239.0,2426.9 1244.0,2433.1 1251.5,2418.2 1257.7,2413.2 1262.7,2400.8 1266.4,2353.5 1270.9,2321.2 1275.1,2341.1 1281.3,2378.4 1286.3,2408.2 1290.0,2425.7 1292.5,2502.7 1295.0,2559.9 1298.2,2502.7 1303.7,2485.3 1309.9,2470.4 1314.9,2460.5 1317.4,2393.3 1322.3,2385.9 1327.3,2410.7 1332.3,2430.6 1337.3,2418.2 1342.2,2412.0 1347.2,2416.9 1352.2,2420.7 1358.4,2413.2 1365.9,2395.8 1374.6,2378.4 1378.3,2328.7 1382.0,2259.0 1388.2,2250.3 1394.5,2259.0 1398.2,2316.2 1401.9,2353.5 1404.4,2453.0 1406.9,2559.9 1410.1,2507.7 1418.1,2502.7 1424.3,2497.8 1426.8,2482.8 1429.3,2410.7 1433.0,2413.2 1438.0,2408.2 1444.2,2408.2 1451.7,2423.2 1457.9,2443.1 1466.6,2453.0 1471.5,2440.6 1475.3,2455.5 1480.0,2459.2 1484.9,2453.5 1488.6,2441.1 1492.3,2411.3 1496.1,2397.6 1501.0,2408.8 1506.0,2428.7 1513.5,2443.6 1516.0,2503.3 1518.9,2560.5 1522.2,2524.4 1528.4,2524.4 1534.6,2515.7 1539.6,2500.8 1543.3,2473.4 1547.0,2453.5 1554.5,2464.7 1559.5,2456.0 1565.7,2447.3 1570.7,2447.3 1578.1,2458.5 1586.8,2466.0 1595.5,2468.5 1600.5,2463.5 1604.2,2446.1 1608.5,2436.1 1614.2,2443.6 1620.4,2463.5 1626.6,2480.9 1629.1,2528.1 1631.1,2560.5 1634.1,2528.1 1640.3,2526.9 1646.5,2518.2 1651.5,2498.3 1656.4,2453.5 1660.2,2436.1 1663.9,2428.7 1671.4,2434.9 1678.8,2446.1 1686.8,2459.8 1691.3,2449.8 1698.7,2447.3 1706.2,2438.6 1713.6,2431.2 1719.9,2427.4 1727.3,2438.6 1733.5,2458.5 1738.5,2470.9 1741.0,2528.1 1743.5,2560.5 1746.5,2526.9 1753.4,2515.7 1760.9,2508.2 1764.6,2483.4 1769.6,2469.7 1777.1,2463.5 1780.8,2449.8 1785.3,2439.9 1790.7,2451.0 1796.9,2463.5 1805.7,2458.5 1813.1,2453.5 1820.6,2443.6 1826.8,2433.6 1831.8,2428.7 1836.7,2441.1 1841.7,2456.0 1847.9,2461.0 1851.7,2478.4 1853.6,2528.1 1855.9,2560.5 1858.4,2528.1 1864.1,2525.7 1870.3,2515.7 1876.5,2493.3 1880.0,2463.5 1883.6,2459.8 1888.6,2461.0 1893.6,2466.0 1897.3,2461.0 1902.3,2457.3 1907.2,2463.5 1912.2,2473.4 1916.0,2485.9 1920.9,2489.6 1928.4,2487.1 1934.6,2478.4 1939.6,2461.0 1944.1,2446.1 1949.5,2456.0 1955.7,2472.2 1962.0,2475.9 1964.4,2515.7 1967.4,2560.5 1970.7,2530.6 1976.9,2523.2 1983.1,2508.2 1986.8,2490.8 1990.6,2468.5 1995.5,2464.7 2003.0,2459.8 2009.2,2453.5 2014.2,2468.5 2020.4,2487.1 2026.6,2497.1 2034.1,2499.5 2041.5,2495.8 2047.7,2485.9 2054.0,2470.9 2058.9,2463.5 2065.2,2466.0 2072.6,2470.9 2076.3,2490.8 2077.6,2528.1 2079.6,2560.5 2082.6,2533.1 2088.8,2528.1 2096.2,2515.7 2101.2,2495.8 2106.2,2475.9 2112.4,2469.7 2119.9,2463.5 2126.1,2461.0 2132.3,2469.7 2137.3,2477.2 2142.2,2478.4 2148.5,2474.7 2155.9,2466.0 2162.1,2453.5 2167.1,2443.6 2172.1,2453.5 2177.1,2470.9 2183.3,2488.4 2188.2,2493.3 2190.2,2528.1 2192.0,2560.5 2194.5,2533.1 2200.7,2528.1 2208.1,2520.7 2214.4,2503.3 2219.3,2475.9 2224.3,2458.5 2229.3,2452.3 2234.2,2447.3" stroke="#000000"/>
<polyline points="284.9,2413.2 287.4,2425.7 289.8,2438.1 294.8,2435.6 302.3,2415.7 309.7,2383.4 313.0,2339.9 317.2,2352.3 327.1,2353.5 332.1,2366.0 339.6,2368.5 345.8,2378.4 350.8,2361.0 359.5,2316.2 366.9,2254.1 371.9,2179.5 375.6,2134.7 378.9,2112.3 383.1,2154.6 388.1,2229.2 393.0,2303.8 398.0,2348.6 406.7,2367.2 414.2,2351.0 420.4,2303.8 425.4,2259.0 429.1,2286.4 435.3,2288.9 442.8,2318.7 451.5,2322.5 462.7,2327.4 470.1,2303.8 477.6,2288.9 482.6,2229.2 486.3,2191.9 490.0,2219.3 495.0,2269.0 500.0,2328.7 504.9,2373.4 513.6,2390.8 519.9,2413.2 523.6,2416.9 528.6,2405.8 533.5,2368.5 537.3,2356.0 542.2,2375.9 548.5,2393.3 555.9,2389.6 562.1,2395.8 569.6,2408.2 574.6,2410.7 580.8,2403.3 587.0,2383.4 593.2,2353.5 598.2,2323.7 604.4,2343.6 610.6,2363.5 615.6,2380.9 623.1,2398.3 628.0,2413.2 633.0,2415.7 639.2,2405.8 645.4,2373.4 650.4,2346.1 654.1,2337.4 659.1,2353.5 664.1,2373.4 671.5,2351.0 676.2,2332.4 682.4,2343.6 691.1,2313.7 697.3,2315.0 703.5,2286.4 708.5,2234.2 711.0,2229.2 715.2,2239.1 720.9,2278.9 727.1,2308.8 733.4,2326.2 738.3,2329.9 744.5,2344.8 749.5,2338.6 753.3,2321.2 757.0,2274.0 761.5,2251.6 765.7,2264.0 771.9,2271.5 781.8,2283.9 789.3,2301.3 798.0,2287.6 804.2,2291.4 809.2,2283.9 814.2,2259.0 819.1,2204.3 822.4,2177.0 826.6,2194.4 831.6,2251.6 837.8,2308.8 844.0,2338.6 850.2,2346.1 855.2,2357.3 860.2,2351.0 864.4,2348.6 867.6,2293.9 871.4,2285.2 877.6,2286.4 881.3,2301.3 886.3,2318.7 892.5,2315.0 896.2,2326.2 901.7,2342.3 908.7,2336.1 916.1,2333.6 922.3,2326.2 929.8,2306.3 936.0,2296.3 939.8,2290.1 944.7,2308.8 948.5,2320.0 953.4,2324.9 958.4,2343.6 965.9,2370.9 972.1,2384.6 977.1,2373.4 982.0,2338.6 989.5,2311.3 994.5,2298.8 999.4,2297.6 1004.4,2313.7 1011.9,2328.7 1018.1,2320.0 1025.5,2324.9 1033.0,2327.4 1038.0,2318.7 1043.0,2313.7 1049.2,2320.0 1055.4,2336.1 1062.8,2351.0 1070.3,2367.2 1077.8,2363.5 1084.9,2357.3 1091.1,2341.1 1097.3,2324.9 1103.5,2322.5 1107.7,2337.4 1112.2,2328.7 1117.2,2332.4 1124.7,2348.6 1130.9,2366.0 1135.8,2369.7 1142.1,2363.5 1148.3,2348.6 1153.3,2316.2 1157.0,2288.9 1162.0,2278.9 1168.2,2277.7 1173.1,2278.9 1176.9,2303.8 1181.8,2336.1 1188.1,2343.6 1193.0,2353.5 1196.8,2357.3 1201.7,2346.1 1205.5,2303.8 1209.9,2291.4 1214.2,2311.3 1219.1,2331.2 1224.1,2333.6 1230.3,2324.9 1234.1,2326.2 1240.3,2341.1 1247.7,2349.8 1254.0,2344.8 1258.9,2342.3 1263.9,2328.7 1267.6,2291.4 1271.4,2264.0 1275.1,2278.9 1280.1,2308.8 1286.3,2331.2 1293.7,2342.3 1300.0,2338.6 1308.7,2339.9 1312.4,2331.2 1314.9,2291.4 1318.6,2265.3 1322.3,2269.0 1327.3,2291.4 1332.3,2301.3 1337.3,2297.6 1342.2,2303.8 1348.5,2318.7 1353.4,2326.2 1360.9,2318.7 1368.4,2306.3 1374.6,2291.4 1378.3,2241.6 1382.0,2186.9 1387.7,2177.0 1392.0,2186.9 1396.9,2229.2 1403.2,2269.0 1410.6,2275.2 1416.1,2302.6 1421.8,2291.4 1426.8,2266.5 1431.8,2219.3 1435.5,2196.9 1439.2,2195.6 1444.2,2229.2 1450.4,2269.0 1457.9,2303.8 1465.3,2333.6 1471.5,2343.6 1480.0,2358.5 1486.1,2362.8 1491.1,2341.6 1496.1,2318.0 1501.0,2346.6 1507.2,2371.5 1514.7,2383.9 1523.4,2390.1 1530.9,2396.3 1537.1,2388.9 1540.8,2369.0 1546.5,2350.3 1550.8,2378.9 1555.7,2391.4 1560.7,2387.6 1565.7,2386.4 1570.7,2403.8 1578.1,2420.0 1585.6,2427.4 1593.0,2428.7 1599.3,2423.7 1604.2,2403.8 1608.5,2393.9 1614.2,2403.8 1620.4,2418.7 1630.3,2427.4 1637.8,2421.2 1645.3,2413.7 1650.2,2398.8 1654.0,2364.0 1658.9,2352.8 1663.9,2354.1 1668.9,2369.0 1676.3,2378.9 1682.6,2386.4 1686.8,2392.6 1691.3,2381.4 1698.7,2378.9 1706.2,2371.5 1713.6,2361.5 1719.9,2356.6 1727.3,2366.5 1734.8,2386.4 1742.2,2396.3 1749.7,2400.1 1755.9,2400.1 1762.1,2393.9 1767.1,2371.5 1773.3,2367.7 1779.5,2376.4 1785.8,2383.9 1790.7,2396.3 1795.2,2403.8 1801.9,2397.6 1808.1,2392.6 1813.1,2392.6 1820.6,2383.9 1826.8,2371.5 1831.8,2370.2 1836.7,2381.4 1841.7,2398.8 1846.7,2396.3 1852.9,2408.8 1860.4,2423.7 1866.6,2428.7 1872.8,2421.2 1876.5,2398.8 1880.0,2378.9 1884.1,2377.7 1888.6,2383.9 1893.6,2397.6 1901.0,2403.8 1906.0,2416.2 1912.2,2433.6 1917.2,2449.8 1925.9,2456.0 1933.4,2451.0 1938.3,2436.1 1943.8,2423.7 1949.5,2436.1 1955.7,2446.1 1959.5,2448.6 1966.9,2443.6 1973.1,2433.6 1979.4,2428.7 1984.3,2418.7 1989.3,2393.9 1993.8,2386.4 1998.0,2393.9 2004.2,2411.3 2011.7,2423.7 2017.9,2441.1 2024.1,2461.0 2031.6,2473.4 2040.3,2478.4 2045.3,2478.4 2051.5,2466.0 2056.4,2456.0 2061.4,2456.0 2068.9,2461.0 2078.8,2464.7 2086.3,2464.7 2095.0,2459.8 2101.2,2448.6 2106.2,2433.6 2109.9,2429.9 2118.6,2433.6 2127.3,2441.1 2133.5,2452.3 2141.0,2462.2 2148.5,2459.8 2157.2,2452.3 2163.4,2438.6 2168.4,2433.6 2172.1,2448.6 2177.1,2470.9 2183.3,2488.4 2189.5,2499.5 2194.5,2498.3 2199.4,2497.1 2206.9,2500.8 2211.9,2490.8 2216.8,2468.5 2220.6,2456.0 2225.5,2459.8 2230.5,2461.0 2234.2,2462.2" stroke="#0000FF"/>
<polyline points="283.6,2247.9 289.8,2236.7 297.3,2226.7 306.0,2196.9 311.0,2162.1 313.5,2147.1 319.7,2159.6 325.9,2164.5 334.6,2186.9 345.8,2206.8 353.3,2172.0 360.7,2129.7 364.4,2094.9 366.9,2052.5 373.1,1967.9 378.1,1943.1 381.8,1967.9 385.6,2052.5 387.3,2094.9 389.8,2129.7 393.0,2167.0 395.5,2104.9 396.3,2087.3 400.5,2057.4 406.7,2061.2 412.9,2052.5 416.7,2040.0 420.4,1990.3 425.4,1953.0 430.3,1982.8 436.6,2007.7 444.0,2022.6 454.0,2025.1 462.7,2026.4 468.9,2007.7 477.6,1987.8 482.6,1933.1 486.3,1897.1 491.3,1928.1 495.0,1977.9 500.0,2040.0 504.9,2072.4 508.7,2047.5 513.6,2017.7 518.6,2035.1 523.6,2050.0 527.3,2052.5 531.0,2032.6 534.8,2018.9 539.8,2027.6 543.5,2052.5 548.5,2079.8 554.7,2084.8 560.9,2094.7 565.9,2112.2 568.4,2117.3 574.6,2128.5 580.8,2119.8 588.2,2102.4 593.2,2072.4 598.2,2061.2 604.4,2082.3 608.1,2102.2 610.6,2112.3 616.8,2153.4 618.1,2104.9 619.3,2052.5 621.8,1987.8 625.5,1969.2 631.8,1972.9 640.5,1980.4 646.7,1972.9 651.7,1960.5 656.6,1966.7 660.4,1977.9 664.1,1995.3 672.8,1996.3 679.9,1981.4 689.8,1961.5 699.8,1951.5 706.0,1898.3 709.7,1856.0 714.7,1863.5 720.9,1905.8 727.6,1947.3 732.1,1918.2 737.1,1905.8 742.1,1925.7 747.0,1930.6 752.5,1918.2 755.7,1866.0 760.7,1836.1 765.7,1849.8 774.4,1858.5 781.8,1861.0 789.3,1869.7 798.0,1854.8 803.0,1863.5 808.7,1866.0 814.2,1841.1 819.1,1796.3 822.9,1771.5 827.9,1816.2 832.8,1878.4 840.3,1928.1 845.3,1858.5 850.2,1839.9 856.4,1858.5 863.9,1888.4 867.1,1848.6 870.1,1833.6 876.3,1841.1 881.3,1858.5 887.5,1883.4 893.7,1895.8 901.2,1935.6 911.2,1948.0 923.6,1960.5 933.5,1966.7 941.0,1969.2 948.5,2005.2 954.7,2005.2 957.2,1928.1 959.6,1878.4 963.4,1879.6 969.6,1928.1 975.8,1950.5 982.0,1928.1 988.2,1923.2 992.0,1915.7 996.9,1923.2 1004.4,1967.9 1014.4,2005.2 1024.3,2002.7 1033.0,2017.7 1038.0,2023.1 1043.0,2010.2 1051.7,2032.6 1060.4,2060.4 1065.8,2089.0 1067.5,2005.7 1069.9,1931.1 1073.7,1885.9 1078.7,1890.8 1084.9,1898.6 1089.8,1897.3 1093.6,1883.6 1098.5,1895.8 1103.5,1908.2 1106.0,1928.1 1112.2,1935.6 1118.4,1948.0 1124.7,1970.4 1130.9,1990.3 1135.8,1999.0 1140.1,2001.5 1145.8,1995.3 1149.5,1982.8 1154.5,1948.0 1158.2,1928.1 1162.0,1924.4 1168.2,1925.7 1174.4,1921.9 1176.4,1923.2 1178.1,1951.8 1180.6,1853.5 1183.1,1816.2 1186.8,1801.3 1190.6,1816.2 1195.5,1849.8 1201.7,1842.3 1205.5,1803.8 1208.0,1801.3 1211.7,1808.8 1215.4,1833.6 1221.6,1853.5 1230.3,1856.0 1235.3,1868.5 1241.5,1890.8 1247.7,1909.5 1256.4,1902.0 1261.4,1893.3 1266.4,1853.5 1270.9,1816.2 1275.1,1836.1 1280.1,1861.0 1285.0,1877.2 1290.0,1882.1 1293.7,1791.4 1296.2,1769.0 1298.7,1757.8 1304.9,1766.5 1308.7,1776.4 1313.1,1791.4 1316.1,1754.1 1318.6,1745.4 1323.6,1761.5 1328.6,1786.4 1333.5,1798.8 1338.5,1801.3 1343.5,1813.7 1349.7,1831.2 1358.4,1832.4 1364.6,1837.4 1372.1,1831.2 1375.8,1818.7 1379.5,1766.5 1383.3,1719.3 1388.2,1704.3 1393.2,1729.2 1398.2,1769.0 1403.2,1808.8 1405.7,1729.2 1408.1,1684.4 1411.4,1663.3 1415.6,1691.9 1420.6,1715.5 1425.5,1679.5 1430.5,1673.3 1435.5,1689.4 1440.5,1709.3 1444.2,1766.5 1447.9,1816.2 1452.9,1866.0 1457.9,1910.7 1464.1,1953.0 1467.8,1967.9 1474.0,1980.4 1480.0,2007.7 1486.1,2038.2 1491.1,2025.8 1496.1,2010.8 1499.8,2048.1 1506.0,2085.4 1511.0,2107.8 1514.2,2116.5 1517.2,2073.0 1519.7,2048.1 1523.4,2032.0 1528.4,2040.7 1533.4,2056.8 1538.3,2058.1 1542.1,2033.2 1547.0,2022.0 1550.8,2060.6 1554.5,2102.8 1562.0,2120.3 1569.4,2140.1 1576.9,2162.5 1583.1,2173.7 1589.3,2176.2 1596.8,2173.7 1601.7,2147.6 1606.7,2117.8 1611.7,2102.8 1619.1,2099.1 1627.9,2100.4 1630.3,2060.6 1634.1,2020.8 1641.5,2012.1 1650.2,2007.1 1652.7,1973.5 1656.4,1968.6 1662.7,1971.0 1667.6,1993.4 1673.9,2009.6 1686.3,2008.4 1691.3,1988.5 1700.0,1971.0 1708.7,1946.2 1716.1,1933.7 1723.6,1923.8 1728.6,1928.8 1733.5,1951.2 1738.5,1973.5 1742.2,1874.1 1747.2,1851.7 1752.2,1869.1 1757.2,1896.4 1761.4,1903.9 1765.9,1894.0 1774.6,1898.9 1779.5,1928.8 1785.8,1973.5 1792.0,2015.8 1795.7,2038.2 1800.7,2046.9 1810.6,2042.4 1818.1,2041.1 1825.5,2042.4 1830.5,2049.8 1835.5,2063.5 1841.7,2072.2 1846.7,2074.7 1850.9,2089.2 1854.1,2023.3 1856.6,1948.7 1860.4,1911.4 1867.8,1919.3 1874.0,1926.3 1880.0,1920.1 1883.6,1927.1 1888.6,1949.5 1893.6,1989.3 1898.5,2019.1 1906.0,2058.9 1913.5,2106.2 1919.7,2141.0 1925.9,2170.8 1930.9,2188.2 1934.6,2194.5 1939.6,2185.8 1943.3,2177.1 1949.5,2180.8 1957.0,2188.2 1962.5,2192.0 1965.7,2146.0 1969.4,2108.7 1971.9,2093.7 1979.4,2090.0 1986.8,2083.8 1990.6,2081.3 1994.3,2108.7 1999.3,2158.4 2004.2,2180.0 2009.2,2229.7 2015.4,2279.5 2020.4,2329.2 2025.4,2361.5 2032.8,2388.9 2040.3,2411.3 2045.3,2415.0 2050.2,2407.5 2056.4,2397.6 2062.7,2395.1 2070.1,2396.3 2073.9,2398.8 2075.1,2354.1 2077.6,2279.5 2080.1,2242.2 2083.8,2228.5 2088.8,2226.0 2095.0,2221.0 2100.0,2207.4 2106.2,2192.4 2113.6,2191.2 2121.1,2192.4 2126.1,2201.1 2131.0,2221.0 2136.0,2239.7 2143.5,2250.9 2152.2,2258.3 2159.6,2263.3 2165.4,2258.3 2169.6,2270.8 2175.8,2308.1 2182.0,2339.1 2187.0,2370.2 2188.7,2304.3 2192.0,2180.0 2192.7,2168.4 2195.7,2153.4 2201.9,2160.9 2209.4,2168.4 2215.6,2155.9 2220.6,2148.5 2224.3,2160.9 2230.5,2180.8 2235.5,2188.2" stroke="#FF0000"/>
<polyline points="283.6,2247.9 289.8,2236.7 297.3,2226.7 306.0,2196.9 311.0,2162.1 313.5,2147.1 319.7,2159.6 325.9,2164.5 334.6,2186.9 345.8,2206.8 353.3,2172.0 360.7,2129.7 364.4,2094.9 366.9,2052.5 373.1,1967.9 378.1,1943.1 381.8,1967.9 385.6,2052.5 387.3,2094.9 389.8,2129.7 393.0,2167.0 395.5,2104.9 396.3,2087.3 400.5,2057.4 406.7,2061.2 412.9,2052.5 416.7,2040.0 420.4,1990.3 425.4,1953.0 430.3,1982.8 436.6,2007.7 444.0,2022.6 454.0,2025.1 462.7,2026.4 468.9,2007.7 477.6,1987.8 482.6,1933.1 486.3,1897.1 491.3,1928.1 495.0,1977.9 500.0,2040.0 504.9,2072.4 508.7,2047.5 513.6,2017.7 518.6,2035.1 523.6,2050.0 527.3,2052.5 531.0,2032.6 534.8,2018.9 539.8,2027.6 543.5,2052.5 548.5,2079.8 554.7,2084.8 560.9,2094.7 565.9,2112.2 568.4,2117.3 574.6,2128.5 580.8,2119.8 588.2,2102.4 593.2,2072.4 598.2,2061.2 604.4,2082.3 608.1,2102.2 610.6,2112.3 616.8,2153.4 618.1,2104.9 619.3,2052.5 621.8,1987.8 625.5,1969.2 631.8,1972.9 640.5,1980.4 646.7,1972.9 651.7,1960.5 656.6,1966.7 660.4,1977.9 664.1,1995.3 672.8,1992.8 679.9,1977.9 689.8,1958.0 699.8,1948.0 706.0,1898.3 709.7,1856.0 714.7,1863.5 720.9,1905.8 727.6,1944.3 732.1,1918.2 737.1,1905.8 742.1,1925.7 747.0,1930.6 752.5,1918.2 755.7,1866.0 760.7,1836.1 765.7,1849.8 774.4,1858.5 781.8,1861.0 789.3,1869.7 798.0,1854.8 803.0,1863.5 808.7,1866.0 814.2,1841.1 819.1,1796.3 822.9,1771.5 827.9,1816.2 832.8,1878.4 840.3,1928.1 845.3,1858.5 850.2,1839.9 856.4,1858.5 863.9,1888.4 867.1,1848.6 870.1,1833.6 876.3,1841.1 881.3,1858.5 887.5,1883.4 893.7,1895.8 901.2,1935.6 911.2,1948.0 923.6,1960.5 933.5,1966.7 941.0,1969.2 948.5,2005.2 954.7,2005.2 957.2,1928.1 959.6,1878.4 963.4,1879.6 969.6,1928.1 975.8,1950.5 982.0,1928.1 988.2,1923.2 992.0,1915.7 996.9,1923.2 1004.4,1967.9 1014.4,2005.2 1024.3,2002.7 1033.0,2017.7 1038.0,2020.1 1043.0,2010.2 1051.7,2032.6 1060.4,2057.4 1065.8,2086.0 1067.5,2002.7 1069.9,1928.1 1073.7,1885.9 1078.7,1890.8 1084.9,1897.1 1089.8,1895.8 1093.6,1882.1 1098.5,1895.8 1103.5,1908.2 1106.0,1928.1 1112.2,1935.6 1118.4,1948.0 1124.7,1970.4 1130.9,1990.3 1135.8,1999.0 1140.1,2001.5 1145.8,1995.3 1149.5,1982.8 1154.5,1948.0 1158.2,1928.1 1162.0,1924.4 1168.2,1925.7 1174.4,1921.9 1176.4,1923.2 1178.1,1951.8 1180.6,1853.5 1183.1,1816.2 1186.8,1801.3 1190.6,1816.2 1195.5,1849.8 1201.7,1842.3 1205.5,1803.8 1208.0,1801.3 1211.7,1808.8 1215.4,1833.6 1221.6,1853.5 1230.3,1856.0 1235.3,1868.5 1241.5,1890.8 1247.7,1909.5 1256.4,1902.0 1261.4,1893.3 1266.4,1853.5 1270.9,1816.2 1275.1,1836.1 1280.1,1861.0 1285.0,1877.2 1290.0,1882.1 1293.7,1791.4 1296.2,1769.0 1298.7,1757.8 1304.9,1766.5 1308.7,1776.4 1313.1,1791.4 1316.1,1754.1 1318.6,1745.4 1323.6,1761.5 1328.6,1786.4 1333.5,1798.8 1338.5,1801.3 1343.5,1813.7 1349.7,1831.2 1358.4,1832.4 1364.6,1837.4 1372.1,1831.2 1375.8,1818.7 1379.5,1766.5 1383.3,1719.3 1388.2,1704.3 1393.2,1729.2 1398.2,1769.0 1403.2,1808.8 1405.7,1729.2 1408.1,1684.4 1411.4,1663.3 1415.6,1691.9 1420.6,1715.5 1425.5,1679.5 1430.5,1673.3 1435.5,1689.4 1440.5,1709.3 1444.2,1766.5 1447.9,1816.2 1452.9,1866.0 1457.9,1910.7 1464.1,1953.0 1467.8,1967.9 1474.0,1980.4 1480.0,2007.7 1486.1,2038.2 1491.1,2025.8 1496.1,2010.8 1499.8,2048.1 1506.0,2085.4 1511.0,2107.8 1514.2,2116.5 1517.2,2073.0 1519.7,2048.1 1523.4,2032.0 1528.4,2040.7 1533.4,2056.8 1538.3,2058.1 1542.1,2033.2 1547.0,2022.0 1550.8,2060.6 1554.5,2102.8 1562.0,2120.3 1569.4,2140.1 1576.9,2162.5 1583.1,2173.7 1589.3,2176.2 1596.8,2173.7 1601.7,2147.6 1606.7,2117.8 1611.7,2102.8 1619.1,2099.1 1627.9,2100.4 1630.3,2060.6 1634.1,2020.8 1641.5,2012.1 1650.2,2007.1 1652.7,1973.5 1656.4,1968.6 1662.7,1971.0 1667.6,1993.4 1673.9,2009.6 1686.3,2008.4 1691.3,1988.5 1700.0,1971.0 1708.7,1946.2 1716.1,1933.7 1723.6,1923.8 1728.6,1928.8 1733.5,1951.2 1738.5,1973.5 1742.2,1874.1 1747.2,1851.7 1752.2,1869.1 1757.2,1896.4 1761.4,1903.9 1765.9,1894.0 1774.6,1898.9 1779.5,1928.8 1785.8,1973.5 1792.0,2015.8 1795.7,2038.2 1800.7,2046.9 1810.6,2045.7 1818.1,2044.4 1825.5,2045.7 1830.5,2053.1 1835.5,2066.8 1841.7,2075.5 1846.7,2078.0 1850.9,2089.2 1854.1,2023.3 1856.6,1948.7 1860.4,1911.4 1867.8,1916.3 1874.0,1926.3 1880.0,1920.1 1883.6,1927.1 1888.6,1949.5 1893.6,1989.3 1898.5,2019.1 1906.0,2058.9 1913.5,2106.2 1919.7,2141.0 1925.9,2170.8 1930.9,2188.2 1934.6,2194.5 1939.6,2185.8 1943.3,2177.1 1949.5,2180.8 1957.0,2188.2 1962.5,2192.0 1965.7,2146.0 1969.4,2108.7 1971.9,2093.7 1979.4,2090.0 1986.8,2083.8 1990.6,2081.3 1994.3,2108.7 1999.3,2158.4 2004.2,2180.0 2009.2,2229.7 2015.4,2279.5 2020.4,2329.2 2025.4,2361.5 2032.8,2388.9 2040.3,2411.3 2045.3,2415.0 2050.2,2407.5 2056.4,2397.6 2062.7,2395.1 2070.1,2396.3 2073.9,2398.8 2075.1,2354.1 2077.6,2279.5 2080.1,2242.2 2083.8,2228.5 2088.8,2226.0 2095.0,2221.0 2100.0,2207.4 2106.2,2192.4 2113.6,2191.2 2121.1,2192.4 2126.1,2201.1 2131.0,2221.0 2136.0,2239.7 2143.5,2250.9 2152.2,2258.3 2159.6,2263.3 2165.4,2258.3 2169.6,2270.8 2175.8,2308.1 2182.0,2339.1 2187.0,2370.2 2188.7,2304.3 2192.0,2180.0 2192.7,2168.4 2195.7,2153.4 2201.9,2160.9 2209.4,2168.4 2215.6,2155.9 2220.6,2148.5 2224.3,2160.9 2230.5,2180.8 2235.5,2188.2" stroke="#CA2CF4"/>
<path d="M285.0 2183.9L288.6 2209.3L288.6 2209.8M290.8 2233.7L291.1 2236.7L294.8 2256.6L297.5 2255.2M304.1 2243.3L304.8 2241.6L307.2 2219.3L307.6 2217.5M313.1 2191.2L313.5 2189.4L316.1 2165.2M319.1 2139.1L322.2 2114.8L322.2 2113.0M323.0 2087.3L323.5 2073.6L324.0 2061.2M325.1 2035.7L325.7 2022.3L325.9 2009.5M326.4 1982.3L326.7 1969.5L327.7 1956.1M329.7 1931.2L330.8 1917.5L331.1 1905.1M331.7 1884.0L332.2 1862.5L332.5 1867.2M333.9 1894.3L335.2 1917.5L335.4 1920.5M337.2 1947.6L338.7 1969.5L339.3 1973.7M345.9 1999.3L346.9 2000.3L352.0 1977.6L352.2 1976.1M355.0 1951.4L359.5 1977.2M361.0 1970.6L362.7 1951.9L363.0 1944.5M363.4 1931.3L363.8 1917.5L364.4 1905.1M365.9 1877.6L366.0 1875.7L368.6 1851.6M377.9 1853.6L379.4 1879.8M380.2 1903.2L380.6 1925.5L380.8 1929.4M381.9 1953.6L382.5 1966.6L383.0 1979.8M383.8 2005.8L384.3 2019.4L385.0 2032.0M386.3 2057.2L386.5 2060.4L390.9 2082.4L391.2 2082.8M395.6 2089.5L402.6 2100.0L408.5 2105.8L413.2 2103.3M424.5 2056.5L424.6 2056.0L429.0 2034.0L429.2 2030.7M431.1 2004.6L431.9 1992.2L432.4 1978.4M433.3 1953.5L433.4 1951.9L437.1 1928.5L437.1 1927.6M437.7 1902.4L437.8 1899.9L445.1 1877.4M451.2 1887.6L453.2 1894.8L454.9 1876.1M456.3 1861.3L456.4 1859.8L461.9 1837.4L462.3 1835.8M468.6 1809.8L468.9 1808.8L473.9 1785.2L473.9 1784.1M476.2 1759.1L476.3 1757.8L484.9 1734.4M487.5 1757.4L487.5 1757.8L492.5 1782.7L492.5 1783.1M493.0 1809.3L493.0 1810.0L493.7 1834.9L493.8 1835.5M494.2 1862.2L494.2 1863.5L496.2 1887.1L496.3 1888.3M496.7 1913.8L496.7 1915.7L497.5 1938.1L497.5 1940.0M498.2 1966.0L498.2 1967.9L500.0 1990.3L500.0 1992.2M500.7 2018.3L500.7 2020.1L503.2 2042.5L503.3 2044.4M504.9 2070.7L504.9 2071.1L507.8 2096.7M511.0 2122.5L511.2 2124.8L517.4 2145.9L518.3 2144.2M525.7 2124.8L526.1 2123.5L532.3 2101.1L532.7 2099.5M538.7 2075.8L542.2 2052.5L542.5 2049.8M544.6 2024.5L544.7 2022.6L546.0 2000.3L546.0 1998.4M547.1 1971.1L547.2 1969.2L548.5 1946.8L548.5 1944.9M549.2 1918.8L549.2 1916.9L552.2 1894.6L552.6 1892.8M562.6 1868.4L563.9 1867.2L568.4 1889.6L570.0 1889.1M578.4 1874.3L580.8 1868.5L585.8 1877.2L586.2 1867.3M586.9 1849.7L587.0 1847.3L593.2 1838.6L599.4 1829.2L599.5 1831.0M600.6 1859.7L600.7 1861.0L601.9 1884.6L602.0 1885.9M602.6 1913.2L602.7 1914.5L605.7 1938.1L605.7 1939.2M606.8 1965.2L606.9 1966.7L613.1 1989.1L614.6 1989.4M622.9 2033.9L623.1 2036.3L626.0 2057.4L627.8 2055.8M632.1 2068.3L633.0 2074.9L633.5 2094.5M634.4 2112.3L634.7 2117.1L640.5 2098.5L642.2 2097.8M648.7 2086.9L651.7 2073.6L652.0 2061.0M652.4 2046.8L652.4 2045.0L656.6 2022.6L656.7 2021.0M658.3 1993.4L658.4 1992.8L660.9 1967.9L660.9 1967.4M662.7 1946.1L662.8 1944.3L665.8 1921.9L665.9 1920.1M667.0 1893.2L667.1 1890.8L671.5 1869.7L671.8 1871.9M673.2 1887.8L673.3 1888.4L677.8 1913.2L677.9 1913.2L678.0 1913.5M685.8 1946.9L687.4 1950.5L692.3 1938.1L693.1 1946.9M694.5 1963.0L694.8 1966.7L696.8 1985.3L697.7 1981.7M703.1 1951.1L704.8 1938.1L706.1 1925.0M708.3 1902.7L708.5 1900.8L710.2 1877.2L710.3 1877.8M712.1 1905.8L712.2 1908.2L715.2 1929.4L715.6 1931.8M719.4 1956.3L719.7 1958.0L724.2 1980.4L724.3 1982.0M730.7 2002.9L730.9 2002.7L734.6 2025.1L734.9 2028.4M736.8 2051.5L737.1 2055.0L739.6 2072.4L744.1 2074.9L744.1 2074.9M746.4 2110.5L746.5 2112.2L752.0 2092.3L752.2 2088.4M753.2 2065.5L753.3 2063.7L755.7 2041.3L755.8 2039.4M756.2 2014.3L756.2 2012.7L758.2 2000.3L765.7 1992.8L765.7 1991.4M766.9 1963.6L766.9 1963.0L769.4 1938.1L769.4 1937.5M770.6 1912.6L770.7 1910.7L772.4 1888.4L772.4 1886.5M773.1 1860.4L773.1 1859.8L773.9 1834.9L773.9 1834.2M774.4 1807.6L774.4 1806.3L775.6 1782.7L775.9 1781.4M780.8 1754.5L785.2 1728.6M791.1 1775.5L791.3 1777.7L795.5 1793.9L800.5 1798.8L800.5 1798.6M802.1 1768.2L802.2 1766.5L806.7 1744.1L807.1 1742.5M813.8 1720.2L814.2 1719.3L819.1 1695.6L819.2 1694.6M821.0 1668.9L821.1 1667.0L822.1 1643.4L822.2 1644.1M823.5 1665.2L823.6 1667.0L826.6 1689.4L826.7 1691.2M827.8 1717.4L827.9 1719.3L829.6 1741.6L829.7 1743.5M831.5 1769.6L831.6 1771.5L832.8 1793.9L832.9 1795.7M834.0 1822.4L834.1 1824.9L835.3 1846.1L835.4 1848.6M836.0 1874.0L836.1 1875.9L837.1 1898.3L837.2 1900.2M839.0 1926.9L839.0 1928.1L841.5 1951.8L841.7 1953.0M845.0 1978.6L845.3 1980.4L848.5 2002.7L848.6 2004.5M850.1 2029.9L850.2 2031.3L854.0 2047.5L859.7 2053.3M864.3 2009.1L864.4 2007.7L868.9 2023.9L869.9 2031.9M872.7 2036.9L875.8 2020.1L876.5 2011.1M877.9 1992.2L878.1 1990.3L878.8 1967.9L878.9 1966.0M879.3 1940.0L879.3 1938.1L880.6 1915.7L880.7 1913.8M882.0 1887.8L882.1 1885.9L883.1 1863.5L883.1 1861.6M883.5 1835.6L883.6 1833.6L884.5 1811.3L884.6 1809.4M885.7 1782.7L885.8 1781.4L886.8 1757.8L886.9 1756.5M888.7 1731.0L888.8 1729.2L892.5 1706.8L893.2 1708.4M900.2 1729.5L901.7 1737.9L903.7 1724.2L903.8 1720.4M904.7 1698.1L904.9 1693.1L907.4 1682.0L912.4 1678.2L913.3 1681.6M919.0 1706.5L919.9 1710.6L927.3 1696.9L932.3 1695.6L932.8 1696.8M935.5 1703.2L936.0 1704.3L936.5 1728.0L936.6 1729.2M937.9 1755.3L938.0 1756.6L938.5 1780.2L938.6 1781.5M939.7 1808.1L939.8 1810.0L941.5 1832.4L941.6 1834.3M943.4 1860.4L943.5 1862.2L946.0 1884.6L946.0 1886.5M947.1 1912.6L947.2 1914.5L949.7 1936.8L949.7 1938.7M950.4 1965.4L950.4 1966.7L952.2 1990.3L952.4 1991.5M955.8 2016.6L955.9 2017.7L960.9 2041.3L960.9 2042.3M961.4 2068.5L961.4 2069.9L963.4 2089.8L966.8 2093.2M975.6 2110.8L978.3 2112.2L982.0 2092.3L982.2 2089.3M983.2 2064.9L983.3 2063.7L985.8 2040.0L985.9 2038.8M988.1 2014.4L988.2 2012.7L992.0 1990.3L992.0 1988.6M993.1 1961.7L993.2 1959.2L995.7 1938.1L995.8 1935.6M996.9 1909.5L996.9 1908.2L998.2 1884.6L998.2 1883.3M998.7 1856.6L998.7 1854.8L1001.9 1832.4L1002.3 1830.7M1008.3 1812.7L1009.4 1811.3L1011.9 1833.6L1011.9 1835.5M1013.3 1864.3L1016.8 1884.6L1018.0 1890.0M1024.1 1851.0L1024.3 1848.6L1027.3 1869.7L1027.5 1872.1M1030.3 1901.2L1030.5 1903.3L1032.3 1907.0L1034.7 1892.8L1036.4 1887.5M1042.5 1868.6L1044.2 1863.5L1047.9 1848.6L1048.0 1854.0M1048.6 1885.2L1048.7 1888.4L1050.9 1908.2L1051.0 1911.3M1056.3 1925.2L1057.9 1920.7L1064.1 1938.1L1064.2 1941.0M1065.2 1969.8L1065.3 1972.9L1066.8 1992.8L1067.1 1995.9M1070.0 2024.5L1070.3 2027.6L1072.8 2047.5L1073.1 2050.6M1074.6 2067.2L1075.3 2074.9L1077.8 2067.4L1078.7 2061.2L1079.9 2065.4M1087.2 2055.9L1087.9 2053.7L1092.3 2032.6L1092.6 2030.3M1095.3 2008.8L1096.1 2002.7L1099.8 1992.8L1104.8 1990.3L1104.8 1986.4M1105.2 1962.2L1105.3 1960.5L1108.5 1938.1L1109.8 1939.4M1121.2 1957.8L1122.2 1960.5L1127.1 1980.4L1128.6 1982.8M1137.8 1990.5L1143.3 1986.6L1153.3 1987.8L1159.5 1990.3L1159.8 1992.9M1174.4 2031.6L1174.9 2035.1L1178.1 2017.7L1179.9 2013.0M1189.8 2037.2L1190.6 2041.3L1195.5 2055.0L1202.9 2056.2M1213.7 2055.7L1215.4 2055.0L1216.7 2032.6L1216.7 2030.7M1217.1 2004.7L1217.2 2002.7L1218.2 1980.4L1218.2 1978.5M1219.1 1948.5L1219.1 1945.5L1222.9 1965.4L1223.2 1968.4M1226.4 1993.2L1226.6 1995.3L1232.8 2016.4L1234.5 2017.7M1241.3 2021.0L1242.8 2021.4L1249.0 2043.8L1249.3 2042.3M1253.4 2023.7L1254.0 2021.4L1257.7 2000.3L1258.6 1998.1M1266.1 1976.5L1266.4 1975.4L1270.1 1951.8L1270.4 1950.7M1276.1 1927.9L1276.3 1926.9L1281.3 1903.3L1281.4 1904.3M1283.7 1935.8L1283.8 1936.8L1288.8 1960.5L1288.9 1961.5M1291.1 1986.0L1291.3 1987.8L1293.7 2010.2L1294.0 2008.4M1296.1 1991.7L1296.2 1990.3L1300.0 1985.3L1302.5 2002.7L1302.6 2003.7M1304.8 2020.4L1304.9 2021.4L1309.9 2045.0L1310.0 2044.0M1311.1 2018.7L1311.2 2017.7L1316.1 1994.0L1316.2 1993.0M1318.6 1967.2L1318.6 1966.7L1322.3 1941.8L1322.4 1941.3M1324.0 1914.5L1324.1 1913.2L1326.1 1889.6L1326.1 1888.3M1327.2 1862.8L1327.3 1861.0L1329.8 1838.6L1329.9 1836.8M1331.0 1810.7L1331.0 1808.8L1332.8 1786.4L1332.8 1784.5M1333.5 1758.4L1333.5 1756.6L1336.5 1734.2L1337.0 1732.4M1344.6 1716.6L1346.0 1715.5L1349.7 1737.9L1350.3 1739.6M1358.2 1748.9L1359.6 1747.9L1363.4 1725.5L1363.8 1723.8M1370.4 1697.3L1370.8 1695.6L1374.6 1673.3L1374.6 1671.5M1375.7 1646.5L1375.8 1644.7L1377.1 1622.3L1377.4 1620.4M1382.0 1596.3L1385.3 1619.8L1385.4 1622.2M1386.9 1648.4L1387.0 1649.6L1388.2 1673.3L1388.3 1674.5M1388.7 1701.2L1388.7 1703.1L1390.2 1725.5L1390.3 1727.4M1391.9 1753.5L1392.0 1755.3L1394.5 1777.7L1394.5 1779.5M1395.6 1805.7L1395.7 1807.5L1397.7 1829.9L1397.8 1831.8M1400.1 1858.5L1400.2 1859.8L1401.9 1883.4L1402.0 1884.6M1404.3 1910.2L1404.4 1912.0L1408.1 1934.4L1408.3 1936.1M1410.5 1962.4L1410.6 1964.2L1414.4 1986.6L1414.7 1984.9M1417.8 1969.2L1418.1 1967.9L1420.6 1948.0L1424.7 1945.5M1427.8 1930.8L1428.5 1920.7L1431.8 1915.7L1435.5 1913.2L1436.0 1907.6M1438.4 1861.4L1438.5 1859.8L1443.0 1837.4L1443.0 1835.7M1443.9 1814.9L1444.2 1807.5L1448.4 1795.8L1448.7 1802.3M1450.1 1831.8L1450.4 1837.4L1452.8 1857.9M1458.5 1886.7L1459.1 1888.4L1462.8 1910.7L1463.1 1912.5M1466.3 1936.3L1466.6 1938.1L1470.3 1960.5L1471.5 1961.7M1490.7 1990.3L1492.3 1997.2L1493.1 2016.3M1493.5 2026.5L1493.6 2028.2L1497.3 2050.6L1497.3 2052.4M1497.8 2077.9L1497.8 2080.5L1498.5 2101.6L1498.6 2104.1M1499.7 2132.3L1499.8 2133.9L1504.8 2156.3L1505.4 2154.8M1509.0 2147.0L1512.2 2142.6L1516.0 2127.7L1516.5 2133.1M1519.5 2163.3L1519.7 2165.0L1523.4 2187.4L1525.2 2187.4M1547.4 2220.8L1549.5 2219.7L1553.3 2198.6L1553.3 2196.2M1553.9 2171.8L1554.0 2170.0L1557.0 2147.6L1558.7 2146.9M1569.4 2152.7L1573.1 2178.6M1587.2 2181.0L1588.1 2181.2L1594.3 2204.8L1594.3 2203.9M1595.7 2169.3L1595.8 2167.5L1599.3 2147.6L1599.9 2143.4M1602.5 2125.8L1603.0 2122.7L1606.7 2102.8L1607.0 2105.7M1608.9 2124.7L1609.2 2127.7L1612.9 2147.6L1613.6 2144.7M1620.8 2111.8L1621.1 2110.3L1626.1 2131.4L1626.6 2134.3M1630.8 2158.0L1631.6 2162.5L1635.3 2176.2L1641.5 2177.4L1641.8 2176.4M1649.0 2149.0L1649.0 2148.8L1653.5 2171.2L1656.6 2171.9M1663.1 2162.0L1666.4 2153.8L1667.7 2136.4M1670.2 2129.7L1672.6 2133.9L1680.1 2120.3L1684.6 2116.7M1690.4 2112.0L1692.5 2110.3L1698.7 2090.4L1699.6 2087.9M1704.0 2083.8L1706.2 2090.4L1707.4 2071.2M1708.6 2052.4L1708.7 2050.6L1712.4 2028.2L1712.5 2026.5M1713.4 2003.1L1713.6 1997.2L1715.6 1982.2L1718.6 1983.5L1718.9 1981.6M1724.1 1932.9L1724.1 1932.5L1729.8 1907.6L1729.9 1907.9M1734.6 1934.0L1734.8 1935.0L1739.8 1958.6L1739.9 1959.6M1743.1 1984.5L1743.5 1987.2L1749.7 1993.4L1755.9 2003.4L1756.8 2000.5M1760.9 1986.5L1762.9 1979.8L1764.6 1993.4L1764.8 1998.8M1765.8 2022.1L1765.9 2024.5L1769.6 2003.4L1769.6 2001.0M1770.1 1975.3L1770.1 1973.5L1773.8 1951.2L1773.9 1949.4M1774.8 1923.8L1774.8 1922.6L1777.1 1898.9L1777.1 1897.7M1777.5 1870.9L1777.6 1869.1L1780.8 1845.5L1781.0 1846.0M1786.3 1860.9L1790.7 1877.8L1793.0 1886.2M1797.8 1901.4L1798.2 1902.7L1805.7 1925.0L1806.1 1926.3M1813.4 1944.4L1815.6 1948.7L1818.1 1961.1L1825.5 1963.6L1825.8 1964.4M1832.3 1980.6L1833.0 1982.2L1836.0 2004.6L1836.3 2006.4M1840.9 2030.9L1841.7 2034.5L1851.7 2018.3L1852.4 2021.8M1859.0 2069.0L1859.1 2070.5L1865.3 2092.9L1865.4 2094.4M1866.6 2122.3L1866.6 2122.7L1869.1 2145.1L1871.8 2146.9M1879.5 2163.1L1880.0 2165.0L1880.8 2140.8M1891.2 2126.5L1892.3 2127.3L1902.3 2106.2L1902.4 2107.6M1904.2 2124.2L1904.8 2129.8L1913.5 2136.0L1916.0 2142.2L1916.4 2145.4M1919.5 2168.1L1919.7 2169.6L1925.9 2147.2L1926.5 2148.6M1934.4 2164.1L1935.8 2168.4L1936.5 2146.7M1937.0 2128.6L1937.1 2126.1L1942.1 2104.9L1942.8 2106.7M1947.9 2120.0L1950.8 2127.3L1954.4 2109.3M1957.8 2095.5L1958.2 2093.7L1962.0 2071.4L1962.9 2072.8M1969.9 2077.3L1971.9 2076.3L1976.9 2055.2L1977.1 2053.0M1980.3 2025.2L1980.6 2022.9L1984.3 2044.0L1984.9 2046.3M1991.1 2069.0L1991.8 2071.4L1994.3 2092.5L1994.6 2090.1M2000.4 2072.9L2003.0 2078.8L2009.2 2077.6L2011.4 2090.8M2018.7 2118.3L2019.1 2119.9L2024.1 2142.2L2024.5 2143.8M2031.1 2168.1L2031.6 2169.6L2037.8 2150.9L2042.4 2149.1M2048.7 2121.7L2049.0 2119.9L2054.0 2097.5L2055.4 2097.7M2068.7 2126.8L2070.1 2128.6L2075.1 2149.7L2075.3 2151.9M2077.5 2178.0L2077.6 2179.5L2081.3 2195.7L2086.3 2201.9L2086.3 2202.1M2092.0 2227.1L2092.5 2229.3L2097.5 2250.4L2099.7 2250.4M2104.7 2246.6L2106.2 2244.2L2111.2 2224.3L2111.4 2221.5M2113.5 2195.0L2113.6 2193.2L2117.4 2170.8L2117.5 2172.6M2118.5 2188.9L2118.6 2190.7L2121.1 2213.1L2122.5 2214.3M2136.1 2228.2L2137.3 2230.5L2137.9 2206.9M2138.5 2186.8L2138.5 2185.8L2143.5 2178.3L2147.2 2164.6L2147.2 2162.6M2147.7 2136.7L2147.7 2134.8L2149.7 2112.4L2149.8 2110.6M2150.9 2084.4L2150.9 2082.6L2153.4 2060.2L2153.5 2058.3M2154.6 2032.2L2154.7 2030.3L2157.2 2008.0L2157.2 2006.1M2157.6 1980.0L2157.7 1978.1L2159.6 1955.7L2159.8 1953.9M2162.0 1927.7L2162.1 1925.9L2164.6 1903.5L2164.7 1901.7M2166.3 1868.0L2166.4 1867.5L2173.8 1888.6L2174.2 1891.8M2176.8 1915.4L2177.1 1917.2L2179.5 1939.6L2179.6 1941.4M2180.0 1966.3L2180.0 1968.2L2181.3 1990.6L2181.3 1992.4M2182.0 2020.4L2182.0 2021.6L2183.3 2045.3L2183.3 2046.5M2184.4 2072.0L2184.5 2073.9L2186.3 2096.2L2186.4 2098.1M2187.7 2123.6L2187.7 2124.8L2190.2 2148.5L2190.3 2149.7M2191.9 2176.5L2192.0 2178.3L2194.5 2200.7L2194.8 2202.5M2200.4 2229.4L2200.7 2230.5L2205.7 2234.2L2208.1 2224.3L2213.1 2225.5L2216.6 2225.5M2232.6 2191.9L2233.0 2180.8L2235.5 2183.3" stroke="#333333"/>
</g>
<text x="292" y="1684" font-size="88" fill="#000">b<tspan dx="4">)</tspan></text>
<text x="525.8" y="3003.5" font-size="60.5" fill="#000">sim</text>
<rect x="653.0" y="2938.0" width="88" height="88" fill="#F2F2F2"/>
<path d="M659.2 2982h75.5" stroke="#000000" stroke-width="5.6" fill="none"/>
<text transform="translate(772.0,2999.8) scale(1,1.042)" font-size="49.5" fill="#000">BASE</text>
<rect x="938.3" y="2938.0" width="88" height="88" fill="#F2F2F2"/>
<path d="M944.5 2982h75.5" stroke="#0000FF" stroke-width="5.6" fill="none"/>
<text transform="translate(1057.3,2999.8) scale(1,1.042)" font-size="49.5" fill="#000">SURF</text>
<rect x="1225.1" y="2938.0" width="88" height="88" fill="#F2F2F2"/>
<path d="M1231.3 2982h75.5" stroke="#FF0000" stroke-width="5.6" fill="none"/>
<text transform="translate(1344.1,2999.8) scale(1,1.042)" font-size="49.5" fill="#000">MODIS</text>
<rect x="1540.0" y="2938.0" width="88" height="88" fill="#F2F2F2"/>
<path d="M1546.2 2982h75.5" stroke="#CA2CF4" stroke-width="5.6" fill="none"/>
<text transform="translate(1659.0,2999.8) scale(1,1.042)" font-size="49.5" fill="#000">SM</text>
<rect x="1769.0" y="2938.0" width="88" height="88" fill="#F2F2F2"/>
<path d="M1774.5 2982h76.5" stroke="#333333" stroke-width="5.6" stroke-dasharray="26.2 26.2" fill="none"/>
<text transform="translate(1888.0,2999.8) scale(1,1.042)" font-size="49.5" fill="#000">OBS</text>
</g>
</svg>
</div>
</body></html>
